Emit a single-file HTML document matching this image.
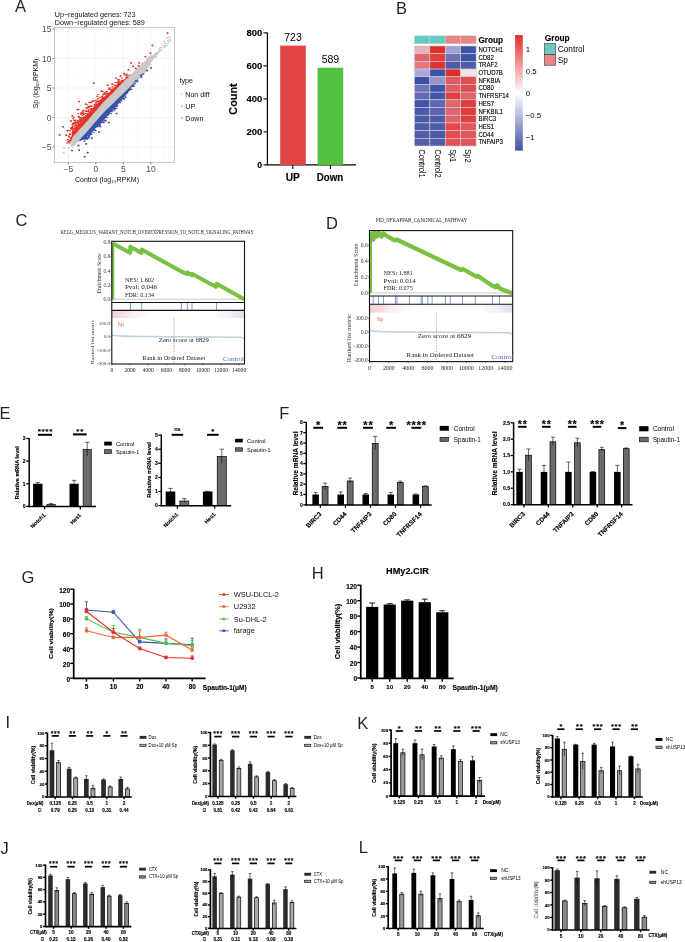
<!DOCTYPE html><html><head><meta charset="utf-8"><style>html,body{margin:0;padding:0;background:#fff;overflow:hidden}svg{display:block;will-change:transform}text[font-weight=bold]{stroke:#000;stroke-width:0.14px}</style></head><body><svg width="685" height="942" viewBox="0 0 685 942" font-family="Liberation Sans, sans-serif"><text x="15" y="12.2" font-size="16.5" fill="#231f20">A</text>
<rect x="54.5" y="27.5" width="120" height="135" fill="#fff"/>
<line x1="54.65" y1="27.5" x2="54.65" y2="162.5" stroke="#f2f2f2" stroke-width="0.4"/>
<line x1="82.15" y1="27.5" x2="82.15" y2="162.5" stroke="#f2f2f2" stroke-width="0.4"/>
<line x1="109.65" y1="27.5" x2="109.65" y2="162.5" stroke="#f2f2f2" stroke-width="0.4"/>
<line x1="137.15" y1="27.5" x2="137.15" y2="162.5" stroke="#f2f2f2" stroke-width="0.4"/>
<line x1="164.65" y1="27.5" x2="164.65" y2="162.5" stroke="#f2f2f2" stroke-width="0.4"/>
<line x1="68.4" y1="27.5" x2="68.4" y2="162.5" stroke="#ebebeb" stroke-width="0.6"/>
<line x1="95.9" y1="27.5" x2="95.9" y2="162.5" stroke="#ebebeb" stroke-width="0.6"/>
<line x1="123.4" y1="27.5" x2="123.4" y2="162.5" stroke="#ebebeb" stroke-width="0.6"/>
<line x1="150.9" y1="27.5" x2="150.9" y2="162.5" stroke="#ebebeb" stroke-width="0.6"/>
<line x1="54.5" y1="161.75" x2="174.5" y2="161.75" stroke="#f2f2f2" stroke-width="0.4"/>
<line x1="54.5" y1="132.25" x2="174.5" y2="132.25" stroke="#f2f2f2" stroke-width="0.4"/>
<line x1="54.5" y1="102.75" x2="174.5" y2="102.75" stroke="#f2f2f2" stroke-width="0.4"/>
<line x1="54.5" y1="73.25" x2="174.5" y2="73.25" stroke="#f2f2f2" stroke-width="0.4"/>
<line x1="54.5" y1="43.75" x2="174.5" y2="43.75" stroke="#f2f2f2" stroke-width="0.4"/>
<line x1="54.5" y1="147" x2="174.5" y2="147" stroke="#ebebeb" stroke-width="0.6"/>
<line x1="54.5" y1="117.5" x2="174.5" y2="117.5" stroke="#ebebeb" stroke-width="0.6"/>
<line x1="54.5" y1="88" x2="174.5" y2="88" stroke="#ebebeb" stroke-width="0.6"/>
<line x1="54.5" y1="58.5" x2="174.5" y2="58.5" stroke="#ebebeb" stroke-width="0.6"/>
<line x1="54.5" y1="29" x2="174.5" y2="29" stroke="#ebebeb" stroke-width="0.6"/>
<path d="M70.5 142.44 L71.94 139.01 L73.38 136.08 L74.83 134.54 L76.27 133 L77.71 131.41 L79.15 129.82 L80.59 128.23 L82.03 126.64 L83.47 125.05 L84.92 123.46 L86.36 121.85 L87.8 120.17 L89.24 118.49 L90.68 116.81 L92.12 115.13 L93.57 113.45 L95.01 111.77 L96.45 110.09 L97.89 108.41 L99.33 106.73 L100.78 105.05 L102.22 103.4 L103.66 101.96 L105.1 100.51 L106.54 99.07 L107.98 97.62 L109.42 96.18 L110.87 94.7 L112.31 93.2 L113.75 91.7 L115.19 90.2 L116.63 88.7 L118.08 87.2 L119.52 85.7 L120.96 84.22 L122.4 82.75 L123.84 81.28 L125.28 79.83 L126.72 78.46 L128.17 77.09 L129.61 75.73 L131.05 74.36 L132.49 72.99 L133.93 71.62 L135.38 70.25 L136.82 68.88 L138.26 67.54 L139.7 66.31 L141.14 64.97 L142.58 63.62 L144.03 62.26 L145.47 60.9 L146.91 59.69 L148.35 58.55 L149.79 57.42 L151.23 56.31 L152.68 55.35 L154.12 54.39 L155.56 53.54 L157 52.87 L157 53.67 L155.56 56.07 L154.12 58.3 L152.68 60.41 L151.23 62.52 L149.79 64.49 L148.35 66.44 L146.91 68.38 L145.47 70.24 L144.03 71.95 L142.58 73.67 L141.14 75.39 L139.7 77.08 L138.26 78.67 L136.82 80.16 L135.38 81.61 L133.93 83.07 L132.49 84.53 L131.05 85.98 L129.61 87.44 L128.17 88.9 L126.72 90.36 L125.28 91.81 L123.84 93.19 L122.4 94.54 L120.96 95.9 L119.52 97.26 L118.08 98.65 L116.63 100.03 L115.19 101.42 L113.75 102.8 L112.31 104.18 L110.87 105.57 L109.42 106.97 L107.98 108.41 L106.54 109.85 L105.1 111.29 L103.66 112.72 L102.22 114.16 L100.78 115.8 L99.33 117.47 L97.89 119.14 L96.45 120.82 L95.01 122.49 L93.57 124.16 L92.12 125.83 L90.68 127.5 L89.24 129.18 L87.8 130.85 L86.36 132.52 L84.92 134.12 L83.47 135.71 L82.03 137.29 L80.59 138.87 L79.15 140.45 L77.71 142.03 L76.27 143.62 L74.83 145.15 L73.38 146.68 L71.94 146.81 L70.5 146.44Z" fill="#c9c9c9"/>
<path d="M69 141.04 L70 139.47 L71 137.25 L72 134.37 L73 131.49 L74 130.26 L75 129.02 L76 127.79 L77 126.54 L78 125.29 L79 124.03 L80 122.78 L81 121.53 L82 120.28 L83 119.02 L84 117.77 L85 116.52 L86 115.26 L87 114.22 L88 113.18 L89 112.14 L90 111.1 L91 110.06 L92 109.02 L93 107.98 L94 106.94 L95 105.9 L96 104.86 L97 103.82 L98 102.78 L99 101.74 L100 100.7 L101 99.66 L102 98.62 L103 97.73 L104 96.84 L105 95.95 L106 95.06 L107 94.16 L108 93.27 L109 92.38 L110 91.49 L111 90.56 L112 89.63 L113 88.7 L114 87.77 L115 86.84 L116 85.92 L117 84.99 L118 84.06 L119 83.13 L120 82.2 L121 81.51 L122 80.83 L123 80.14 L124 79.45 L125 78.77 L126 78.15 L127 77.53 L128 76.92 L129 76.3 L129 76.5 L128 77.45 L127 78.4 L126 79.35 L125 80.3 L124 81.32 L123 82.34 L122 83.36 L121 84.38 L120 85.4 L119 86.44 L118 87.48 L117 88.52 L116 89.56 L115 90.6 L114 91.64 L113 92.68 L112 93.72 L111 94.76 L110 95.8 L109 96.8 L108 97.81 L107 98.81 L106 99.81 L105 100.81 L104 101.82 L103 102.82 L102 103.82 L101 104.99 L100 106.15 L99 107.32 L98 108.48 L97 109.65 L96 110.81 L95 111.98 L94 113.14 L93 114.31 L92 115.47 L91 116.64 L90 117.8 L89 118.97 L88 120.13 L87 121.3 L86 122.46 L85 123.57 L84 124.67 L83 125.77 L82 126.88 L81 127.98 L80 129.08 L79 130.18 L78 131.29 L77 132.39 L76 133.49 L75 134.56 L74 135.62 L73 136.69 L72 139.07 L71 141.45 L70 143.17 L69 144.24Z" fill="#e2362b"/>
<path d="M78 141.51 L79.03 140.38 L80.07 139.25 L81.1 138.11 L82.13 136.98 L83.17 135.84 L84.2 134.71 L85.23 133.58 L86.27 132.43 L87.3 131.23 L88.33 130.03 L89.37 128.83 L90.4 127.63 L91.43 126.43 L92.47 125.24 L93.5 124.04 L94.53 122.84 L95.57 121.64 L96.6 120.44 L97.63 119.24 L98.67 118.04 L99.7 116.85 L100.73 115.65 L101.77 114.45 L102.8 113.38 L103.83 112.35 L104.87 111.32 L105.9 110.29 L106.93 109.26 L107.97 108.23 L109 107.2 L110.03 106.17 L111.07 105.18 L112.1 104.18 L113.13 103.19 L114.17 102.2 L115.2 101.21 L116.23 100.22 L117.27 99.22 L118.3 98.23 L119.33 97.24 L120.37 96.26 L121.4 95.28 L122.43 94.31 L123.47 93.34 L124.5 92.37 L125.53 91.36 L126.57 90.32 L127.6 89.27 L128.63 88.23 L129.67 87.18 L130.7 86.14 L131.73 85.09 L132.77 84.05 L133.8 83.01 L134.83 81.96 L135.87 80.92 L136.9 79.87 L137.93 78.83 L138.97 77.69 L140 76.55 L140 76.75 L138.97 78.1 L137.93 79.44 L136.9 80.69 L135.87 81.95 L134.83 83.29 L133.8 84.63 L132.77 85.97 L131.73 87.3 L130.7 88.64 L129.67 89.98 L128.63 91.34 L127.6 92.69 L126.57 94.05 L125.53 95.4 L124.5 96.72 L123.47 98 L122.43 99.28 L121.4 100.56 L120.37 101.85 L119.33 103.01 L118.3 104.12 L117.27 105.23 L116.23 106.33 L115.2 107.44 L114.17 108.55 L113.13 109.65 L112.1 110.76 L111.07 111.87 L110.03 112.98 L109 114.12 L107.97 115.26 L106.93 116.41 L105.9 117.56 L104.87 118.7 L103.83 119.85 L102.8 120.99 L101.77 122.11 L100.73 123.15 L99.7 124.19 L98.67 125.22 L97.63 126.26 L96.6 127.3 L95.57 128.33 L94.53 129.37 L93.5 130.41 L92.47 131.45 L91.43 132.48 L90.4 133.52 L89.37 134.56 L88.33 135.59 L87.3 136.63 L86.27 137.67 L85.23 138.27 L84.2 138.71 L83.17 139.16 L82.13 139.6 L81.1 140.05 L80.07 140.49 L79.03 141.1 L78 141.71Z" fill="#3a51a9"/>
<path d="M99.75 100.63h1.1M67.85 142.55h1.1M73.37 120.23h1.1M100.51 99.84h1.1M81.07 113.56h1.1M75.18 128.22h1.1M118.05 81.24h1.1M76.21 126.59h1.1M73.73 123.85h1.1M70.61 128.36h1.1M83.27 113.77h1.1M126.74 77.28h1.1M90.56 109.54h1.1M87.21 114.23h1.1M71.94 133.31h1.1M104.75 94.2h1.1M88.76 102.37h1.1M95.27 104.93h1.1M82.16 117.74h1.1M86.55 104.73h1.1M67.24 142.15h1.1M79.56 120.29h1.1M76.88 120.98h1.1M111.84 89h1.1M118.32 82.06h1.1M80.84 117.86h1.1M88.09 106.19h1.1M86.31 108.16h1.1M72.24 128.67h1.1M119.21 82.27h1.1M70.09 137.91h1.1M72.16 132.46h1.1M82.76 113.41h1.1M117.86 83.29h1.1M94.49 100.67h1.1M72.45 131.42h1.1M90.61 102.67h1.1M91.35 109.3h1.1M83.49 114.45h1.1M75.53 123.68h1.1M85.26 116.29h1.1M78.31 124.92h1.1M74.37 120.93h1.1M80.17 120.59h1.1M97.06 99.07h1.1M106.59 93.53h1.1M69.33 130.8h1.1M94.21 104.66h1.1M78.94 121.9h1.1M96.56 104.47h1.1M94.3 105.33h1.1M95.67 102.29h1.1M76.16 123.98h1.1M97.26 94.52h1.1M87.34 111.14h1.1M121.32 81.49h1.1M103.03 94.42h1.1M72.43 123.47h1.1M106.76 93.55h1.1M72.63 123.11h1.1M85.12 110.01h1.1M92.33 101.37h1.1M79.96 117.59h1.1M117.93 82.66h1.1M97.18 101.58h1.1M74.82 125.53h1.1M74.53 128.65h1.1M68.6 136.83h1.1M114.52 87.3h1.1M124.33 75.03h1.1M85.7 115.75h1.1M125.82 77.43h1.1M90.19 106.08h1.1M104.31 93.97h1.1M115.51 85.05h1.1M81.28 120.78h1.1M82.4 118.49h1.1M80.44 112.69h1.1M81.29 118.97h1.1M102.46 94.87h1.1M128.87 75.1h1.1M68.03 141.48h1.1M125.97 75.38h1.1M79.38 121.39h1.1M69.5 134.37h1.1M106.36 93.59h1.1M91.68 106.07h1.1M85.44 111.5h1.1M94.95 106.03h1.1M71.15 129.78h1.1M74.79 120.02h1.1M72.41 118.72h1.1M78.08 109.4h1.1M118.52 82.15h1.1M98.6 101.17h1.1M105.58 91.98h1.1M94.04 106.87h1.1M96.78 96.4h1.1M73.67 129.18h1.1M126.31 73.94h1.1M124.08 74.89h1.1M67.81 141.6h1.1M76.25 125.54h1.1M117.92 79.35h1.1M85.46 115.62h1.1M72.26 129.04h1.1M81.04 120.13h1.1M91.17 109.98h1.1M125.67 77.69h1.1M101.95 97.01h1.1M74.7 127.59h1.1M87.52 113.56h1.1M69.66 134.47h1.1M113.92 85.5h1.1M66.79 143.37h1.1M67.43 139.53h1.1M117.92 84.41h1.1M77.26 120.32h1.1M72.49 130.87h1.1M80.4 114.11h1.1M87.75 111.76h1.1M77.71 113.77h1.1M75.34 124.2h1.1M78.01 123.58h1.1M90.3 106.33h1.1M74.53 122.49h1.1M92.4 100.69h1.1M105.75 91.8h1.1M67.89 141.37h1.1M71.92 124.65h1.1M78.9 117.84h1.1M88.2 109.86h1.1M87.99 110.68h1.1M90.54 109.26h1.1M92.72 108.47h1.1M83.45 114.38h1.1M107.43 93.2h1.1M78.08 116.35h1.1M88.88 106.16h1.1M78.94 117.3h1.1M97.69 98.21h1.1M86.63 111.09h1.1M68.63 141.48h1.1M101.42 96.64h1.1M85.83 107.51h1.1M68.95 140.53h1.1M75.16 128.86h1.1M112.4 89.13h1.1M112.15 84.49h1.1M111.35 90.4h1.1M117.76 82.1h1.1M96.58 100.68h1.1M74.72 122.95h1.1M101.73 98.61h1.1M103.92 93.32h1.1M117.13 85.14h1.1M87.65 106.96h1.1M95.23 103.18h1.1M114.87 82.51h1.1M77.56 122.86h1.1M88.67 107.85h1.1M70.8 127.65h1.1M81.91 111.05h1.1M79.64 119.25h1.1M69.02 130.61h1.1M108.77 87.75h1.1M74.39 128.16h1.1M82.5 117.52h1.1M119.18 81.94h1.1M81.95 115.09h1.1M102.02 97.25h1.1M110.99 90.18h1.1M82.98 110.49h1.1M121.26 80.42h1.1M88.94 107.96h1.1M73.18 117.25h1.1M77.12 122.14h1.1M68.34 136.03h1.1M115.17 85.01h1.1M99.42 97.31h1.1M108.87 88.1h1.1M73.38 126.03h1.1M83.9 116.81h1.1M78.33 117.28h1.1M85.32 113.37h1.1M69.42 133.92h1.1M75.34 122.3h1.1M102.06 91.63h1.1M104.32 92.77h1.1M111.73 86.88h1.1M90.06 101.99h1.1M97.42 101.74h1.1M126.81 76.03h1.1M109.3 89.33h1.1M71.78 127.42h1.1M106.19 91.53h1.1M108.21 89.05h1.1M82.48 112.12h1.1M102.22 97.62h1.1M114.06 87.18h1.1M111.24 89.19h1.1M117.67 79.87h1.1M91.25 108.61h1.1M87.93 111.14h1.1M75.43 126.93h1.1M118.89 80.04h1.1M116.97 82.48h1.1M121.28 78.05h1.1M72.42 126.22h1.1M73.52 126.03h1.1" stroke="#e2362b" stroke-width="1.1" stroke-linecap="round" fill="none"/>
<path d="M80.04 139.95h1.1M100.52 122.36h1.1M106.12 117.57h1.1M93.19 129.51h1.1M92.77 132.77h1.1M123.72 99.16h1.1M89.96 134.26h1.1M84.72 137.95h1.1M128.68 90.44h1.1M115.16 106.76h1.1M98.81 126.31h1.1M140.95 75.31h1.1M99.8 122.77h1.1M88.26 135.81h1.1M93.93 129.5h1.1M103.02 122.7h1.1M115.92 108.35h1.1M99.28 124.32h1.1M140.65 75.87h1.1M85.89 138.99h1.1M125.87 93.54h1.1M87.01 139.19h1.1M96.5 126.66h1.1M140.15 75.69h1.1M105 117.25h1.1M109.5 113.82h1.1M132.99 85.58h1.1M129.79 88.89h1.1M106.43 117.58h1.1M101.84 121.8h1.1M130.84 89.35h1.1M83.91 141.16h1.1M102.51 122.06h1.1M136.96 80.83h1.1M83.11 139.23h1.1M136.62 81.65h1.1M119.47 102.58h1.1M90.47 133.32h1.1M122.94 98.03h1.1M140.36 76.32h1.1M103.5 120.15h1.1M99.49 124.17h1.1M125.17 97.33h1.1M103.45 122.47h1.1M98.92 125.62h1.1M111.19 111.13h1.1M114.36 108.52h1.1M95.21 130.45h1.1M97.42 126.78h1.1M95.05 130.75h1.1M104.58 120.99h1.1M83.99 138.43h1.1M86.02 137.6h1.1M85.53 139.25h1.1M115.79 106.33h1.1M79.89 140.24h1.1M100.01 126.69h1.1M126.65 92.69h1.1M123.32 99.08h1.1M100.59 122.59h1.1M88.84 135.26h1.1M91.74 130.9h1.1M110.93 111.74h1.1M133.11 86.46h1.1M85.02 139h1.1M105.55 117.54h1.1M87 138.14h1.1M81.93 139.28h1.1M140.63 74.79h1.1M107 115.53h1.1M127.08 92.11h1.1M117.05 105.73h1.1M124.43 96.02h1.1M99.31 125.59h1.1M101.66 122.16h1.1M114.14 109.56h1.1M104.93 120.01h1.1M90.72 134.42h1.1M113.29 110.72h1.1M107.42 114.49h1.1M110.52 113.81h1.1M93.14 130.27h1.1M88.28 137.79h1.1M105.23 120.84h1.1M84.64 138.3h1.1M88.96 135.37h1.1M121.02 101.04h1.1M86.57 137.88h1.1M134.62 83.75h1.1M88.19 136.73h1.1" stroke="#3a51a9" stroke-width="1.1" stroke-linecap="round" fill="none"/>
<path d="M144.91 64.36h0.4M154.64 54.77h0.4M168.43 40.35h0.4M140.57 71.66h0.4M154.41 56.88h0.4M140.02 68.31h0.4M157.2 53.03h0.4M148.12 67.25h0.4M157.36 54.22h0.4M148.05 63.7h0.4M146.01 70.26h0.4M144.1 72.59h0.4M137.99 66.43h0.4M154.61 53.79h0.4M153.05 58.5h0.4M159.06 48.82h0.4M137.47 72.66h0.4M149.94 64.41h0.4M155.84 55.36h0.4M141.89 73.41h0.4M139.26 77.74h0.4M144.89 70.54h0.4M153.33 57.06h0.4M164.03 47.59h0.4M144.99 61.63h0.4M148.18 64.15h0.4M168.22 42.78h0.4M160.49 47.16h0.4M144.47 62.07h0.4M141.18 65.39h0.4M155.81 56.98h0.4M141.24 69.9h0.4M155.33 53.12h0.4M136.31 68.68h0.4M150.17 57.88h0.4M138.95 71.93h0.4M148.98 59.96h0.4M158.58 52.41h0.4M151.19 59.28h0.4M141.95 63.61h0.4M138.59 70.29h0.4M138.82 74.38h0.4M150.2 58.52h0.4M153.21 57.12h0.4M146.18 62.56h0.4M166.74 43.59h0.4M150.38 57.03h0.4M137.34 68.59h0.4M164.61 46.17h0.4M137.79 73.47h0.4M147.2 59.13h0.4M161.04 50.61h0.4M153.16 56.32h0.4M143.37 66.33h0.4M142.55 63.27h0.4M159.17 49.24h0.4M147.19 60.94h0.4M149.43 62.97h0.4M150.44 56.88h0.4M138.2 73.56h0.4M169.48 41.27h0.4M152.41 59.06h0.4M158.57 51.85h0.4M167.55 40.56h0.4M151.9 57.66h0.4M159.11 50.88h0.4M155.46 57.13h0.4M146.75 58.96h0.4M155.62 55.23h0.4M147.63 65.15h0.4M148.27 64.58h0.4M145.22 71.34h0.4M150.69 55.29h0.4M138.91 75.33h0.4M165.2 46.12h0.4M148.74 63.61h0.4M135.92 68.83h0.4M147.82 66.84h0.4M166.7 45.39h0.4M142.48 68.78h0.4M152.22 56.81h0.4M155.79 55.7h0.4M145.23 65.64h0.4M152.93 56.87h0.4M153.88 55.5h0.4M161.98 48.11h0.4M144.26 71.82h0.4M153.17 55.25h0.4M145.67 63.98h0.4M159.9 47.39h0.4M143.04 67.35h0.4M147.97 60.64h0.4M148.02 65.32h0.4M143.75 70.69h0.4M158.06 52.21h0.4M157.4 52.55h0.4M148.06 57.66h0.4M158.59 51.92h0.4M147.26 59.15h0.4M162.85 45.28h0.4M144.98 65.73h0.4M160.01 49.96h0.4M164.66 43.33h0.4M146.48 69.69h0.4M142.03 64.66h0.4M145.35 70.51h0.4M164.76 45.4h0.4M150.33 57.32h0.4M139.86 76.69h0.4M150.74 58.8h0.4M156.04 55.66h0.4M148.7 56.93h0.4M148.44 64.88h0.4M147.12 65.58h0.4M136.49 77.06h0.4M156.57 53.71h0.4M142.61 72.88h0.4M155.72 54.22h0.4M146.86 65.49h0.4" stroke="#c9c9c9" stroke-width="1.5" stroke-linecap="round" fill="none"/>
<path d="M63.45 152.6h0.5M63.95 148h0.5M67.55 143.4h0.5M68.55 148h0.5M70.15 142.3h0.5M66.25 140.5h0.5M164.25 41.4h0.5M166.75 38h0.5M169.25 37.5h0.5M170.25 40h0.5" stroke="#c9c9c9" stroke-width="1.7" stroke-linecap="round" fill="none"/>
<path d="M59.35 134.9h0.5M62.75 126.8h0.5M66.05 135.2h0.5M67.05 130.6h0.5M70.65 120.9h0.5M72.15 115.8h0.5M77.25 109.6h0.5M78.75 101.5h0.5M85.45 104h0.5M93.65 83.1h0.5M101.25 91.2h0.5M107.35 85.1h0.5M111.95 84.1h0.5M128.25 69.9h0.5M130.85 62.8h0.5M132.85 66.3h0.5M135.45 68.4h0.5M138.95 62.8h0.5M138.45 65.8h0.5M145.15 56.6h0.5M150.25 53.1h0.5M152.25 45.4h0.5M167.25 33.1h0.5M115.75 78h0.5M120.25 75.8h0.5M123.75 73.5h0.5" stroke="#e2362b" stroke-width="1.7" stroke-linecap="round" fill="none"/>
<path d="M71.65 150.5h0.5M78.25 145.4h0.5M78.75 150h0.5M84.45 156.6h0.5M87.45 152.6h0.5M85.95 143.9h0.5M91.55 138.2h0.5M98.75 132.1h0.5M132.35 85.8h0.5M135.45 81.2h0.5M141.05 77.1h0.5M143.05 74h0.5M146.65 70.4h0.5M150.75 67.9h0.5M108.55 122.6h0.5M116.25 113.5h0.5" stroke="#3a51a9" stroke-width="1.7" stroke-linecap="round" fill="none"/>
<rect x="54.5" y="27.5" width="120" height="135" fill="none" stroke="#b3b3b3" stroke-width="0.7"/>
<line x1="68.4" y1="162.5" x2="68.4" y2="164.5" stroke="#333" stroke-width="0.6"/>
<text x="68.4" y="171.5" font-size="8.5" text-anchor="middle" fill="#4d4d4d">−5</text>
<line x1="95.9" y1="162.5" x2="95.9" y2="164.5" stroke="#333" stroke-width="0.6"/>
<text x="95.9" y="171.5" font-size="8.5" text-anchor="middle" fill="#4d4d4d">0</text>
<line x1="123.4" y1="162.5" x2="123.4" y2="164.5" stroke="#333" stroke-width="0.6"/>
<text x="123.4" y="171.5" font-size="8.5" text-anchor="middle" fill="#4d4d4d">5</text>
<line x1="150.9" y1="162.5" x2="150.9" y2="164.5" stroke="#333" stroke-width="0.6"/>
<text x="150.9" y="171.5" font-size="8.5" text-anchor="middle" fill="#4d4d4d">10</text>
<line x1="52.5" y1="147" x2="54.5" y2="147" stroke="#333" stroke-width="0.6"/>
<text x="51.5" y="150" font-size="8.5" text-anchor="end" fill="#4d4d4d">−5</text>
<line x1="52.5" y1="117.5" x2="54.5" y2="117.5" stroke="#333" stroke-width="0.6"/>
<text x="51.5" y="120.5" font-size="8.5" text-anchor="end" fill="#4d4d4d">0</text>
<line x1="52.5" y1="88" x2="54.5" y2="88" stroke="#333" stroke-width="0.6"/>
<text x="51.5" y="91" font-size="8.5" text-anchor="end" fill="#4d4d4d">5</text>
<line x1="52.5" y1="58.5" x2="54.5" y2="58.5" stroke="#333" stroke-width="0.6"/>
<text x="51.5" y="61.5" font-size="8.5" text-anchor="end" fill="#4d4d4d">10</text>
<line x1="52.5" y1="29" x2="54.5" y2="29" stroke="#333" stroke-width="0.6"/>
<text x="51.5" y="32" font-size="8.5" text-anchor="end" fill="#4d4d4d">15</text>
<text x="107" y="182" font-size="7" text-anchor="middle" fill="#111">Control (log₁₀RPKM)</text>
<text x="38.3" y="83.5" font-size="7.2" text-anchor="middle" fill="#111" transform="rotate(-90 38.3 83.5)" textLength="49.5" lengthAdjust="spacingAndGlyphs">Sp (log₁₀RPKM)</text>
<text x="54.7" y="16.5" font-size="7.2" fill="#111">Up−regulated genes: 723</text>
<text x="54.7" y="24.5" font-size="7.2" fill="#111">Down−regulated genes: 589</text>
<text x="179.5" y="82.7" font-size="7.1" fill="#111">type</text>
<rect x="181" y="93.4" width="1.6" height="1.6" fill="#d9d9d9"/>
<text x="185.3" y="96.7" font-size="7.1" fill="#111">Non diff</text>
<rect x="181" y="105.6" width="1.6" height="1.6" fill="#ef9a8e"/>
<text x="185.3" y="108.9" font-size="7.1" fill="#111">UP</text>
<rect x="181" y="117.3" width="1.6" height="1.6" fill="#8f9fd6"/>
<text x="185.3" y="120.6" font-size="7.1" fill="#111">Down</text>
<line x1="267.4" y1="32.4" x2="267.4" y2="165.5" stroke="#000" stroke-width="1.2"/>
<line x1="266.8" y1="164.9" x2="356" y2="164.9" stroke="#000" stroke-width="1.2"/>
<line x1="263.4" y1="164.9" x2="267.4" y2="164.9" stroke="#000" stroke-width="1.1"/>
<text x="262.2" y="168" font-size="8.8" font-weight="bold" text-anchor="end">0</text>
<line x1="263.4" y1="131.9" x2="267.4" y2="131.9" stroke="#000" stroke-width="1.1"/>
<text x="262.2" y="135" font-size="8.8" font-weight="bold" text-anchor="end" textLength="15.8" lengthAdjust="spacingAndGlyphs">200</text>
<line x1="263.4" y1="98.9" x2="267.4" y2="98.9" stroke="#000" stroke-width="1.1"/>
<text x="262.2" y="102" font-size="8.8" font-weight="bold" text-anchor="end" textLength="15.8" lengthAdjust="spacingAndGlyphs">400</text>
<line x1="263.4" y1="65.9" x2="267.4" y2="65.9" stroke="#000" stroke-width="1.1"/>
<text x="262.2" y="69" font-size="8.8" font-weight="bold" text-anchor="end" textLength="15.8" lengthAdjust="spacingAndGlyphs">600</text>
<line x1="263.4" y1="32.9" x2="267.4" y2="32.9" stroke="#000" stroke-width="1.1"/>
<text x="262.2" y="36" font-size="8.8" font-weight="bold" text-anchor="end" textLength="15.8" lengthAdjust="spacingAndGlyphs">800</text>
<rect x="280.2" y="45.61" width="25.6" height="119.3" fill="#e34546"/>
<rect x="317.6" y="67.72" width="25.6" height="97.19" fill="#53c03f"/>
<line x1="292.8" y1="164.9" x2="292.8" y2="168.9" stroke="#000" stroke-width="1.1"/>
<line x1="330.4" y1="164.9" x2="330.4" y2="168.9" stroke="#000" stroke-width="1.1"/>
<text x="293" y="40.8" font-size="10.5" text-anchor="middle">723</text>
<text x="330.4" y="62.8" font-size="10.5" text-anchor="middle">589</text>
<text x="292.8" y="180.6" font-size="10" font-weight="bold" text-anchor="middle" textLength="14.2" lengthAdjust="spacingAndGlyphs">UP</text>
<text x="330" y="180.6" font-size="10" font-weight="bold" text-anchor="middle" textLength="26.4" lengthAdjust="spacingAndGlyphs">Down</text>
<text x="236.9" y="99" font-size="11" font-weight="bold" text-anchor="middle" transform="rotate(-90 236.9 99)" textLength="31.4" lengthAdjust="spacingAndGlyphs">Count</text>
<text x="396" y="13.6" font-size="16.5" fill="#231f20">B</text>
<rect x="414.4" y="35.8" width="15.43" height="8" fill="#66cbc3" stroke="#d0d0d0" stroke-width="0.4"/>
<rect x="429.83" y="35.8" width="15.43" height="8" fill="#66cbc3" stroke="#d0d0d0" stroke-width="0.4"/>
<rect x="445.26" y="35.8" width="15.43" height="8" fill="#e88585" stroke="#d0d0d0" stroke-width="0.4"/>
<rect x="460.69" y="35.8" width="15.43" height="8" fill="#e88585" stroke="#d0d0d0" stroke-width="0.4"/>
<text x="478.4" y="42.8" font-size="8.2" font-weight="bold">Group</text>
<rect x="414.4" y="46" width="15.43" height="7.69" fill="#e8b2be" stroke="#cfcfcf" stroke-width="0.6"/>
<rect x="429.83" y="46" width="15.43" height="7.69" fill="#e22e28" stroke="#cfcfcf" stroke-width="0.6"/>
<rect x="445.26" y="46" width="15.43" height="7.69" fill="#a0a0d4" stroke="#cfcfcf" stroke-width="0.6"/>
<rect x="460.69" y="46" width="15.43" height="7.69" fill="#3e54a8" stroke="#cfcfcf" stroke-width="0.6"/>
<text x="478.4" y="52" font-size="6.7" textLength="24.83" lengthAdjust="spacingAndGlyphs" stroke="#000" stroke-width="0.13">NOTCH1</text>
<rect x="414.4" y="53.69" width="15.43" height="7.69" fill="#e4646e" stroke="#cfcfcf" stroke-width="0.6"/>
<rect x="429.83" y="53.69" width="15.43" height="7.69" fill="#e23c3c" stroke="#cfcfcf" stroke-width="0.6"/>
<rect x="445.26" y="53.69" width="15.43" height="7.69" fill="#6e73b9" stroke="#cfcfcf" stroke-width="0.6"/>
<rect x="460.69" y="53.69" width="15.43" height="7.69" fill="#3e54a8" stroke="#cfcfcf" stroke-width="0.6"/>
<text x="478.4" y="59.69" font-size="6.7" textLength="15.44" lengthAdjust="spacingAndGlyphs" stroke="#000" stroke-width="0.13">CD82</text>
<rect x="414.4" y="61.38" width="15.43" height="7.69" fill="#e6787d" stroke="#cfcfcf" stroke-width="0.6"/>
<rect x="429.83" y="61.38" width="15.43" height="7.69" fill="#e2302d" stroke="#cfcfcf" stroke-width="0.6"/>
<rect x="445.26" y="61.38" width="15.43" height="7.69" fill="#505aac" stroke="#cfcfcf" stroke-width="0.6"/>
<rect x="460.69" y="61.38" width="15.43" height="7.69" fill="#505aac" stroke="#cfcfcf" stroke-width="0.6"/>
<text x="478.4" y="67.38" font-size="6.7" textLength="19.12" lengthAdjust="spacingAndGlyphs" stroke="#000" stroke-width="0.13">TRAF2</text>
<rect x="414.4" y="69.08" width="15.43" height="7.69" fill="#aaaadc" stroke="#cfcfcf" stroke-width="0.6"/>
<rect x="429.83" y="69.08" width="15.43" height="7.69" fill="#3e54a8" stroke="#cfcfcf" stroke-width="0.6"/>
<rect x="445.26" y="69.08" width="15.43" height="7.69" fill="#e02c24" stroke="#cfcfcf" stroke-width="0.6"/>
<rect x="460.69" y="69.08" width="15.43" height="7.69" fill="#f2e4e4" stroke="#cfcfcf" stroke-width="0.6"/>
<text x="478.4" y="75.08" font-size="6.7" textLength="24.49" lengthAdjust="spacingAndGlyphs" stroke="#000" stroke-width="0.13">OTUD7B</text>
<rect x="414.4" y="76.77" width="15.43" height="7.69" fill="#3a50a8" stroke="#cfcfcf" stroke-width="0.6"/>
<rect x="429.83" y="76.77" width="15.43" height="7.69" fill="#9696cd" stroke="#cfcfcf" stroke-width="0.6"/>
<rect x="445.26" y="76.77" width="15.43" height="7.69" fill="#e25a64" stroke="#cfcfcf" stroke-width="0.6"/>
<rect x="460.69" y="76.77" width="15.43" height="7.69" fill="#e44c50" stroke="#cfcfcf" stroke-width="0.6"/>
<text x="478.4" y="82.77" font-size="6.7" textLength="21.81" lengthAdjust="spacingAndGlyphs" stroke="#000" stroke-width="0.13">NFKBIA</text>
<rect x="414.4" y="84.46" width="15.43" height="7.69" fill="#7073b9" stroke="#cfcfcf" stroke-width="0.6"/>
<rect x="429.83" y="84.46" width="15.43" height="7.69" fill="#3e54a8" stroke="#cfcfcf" stroke-width="0.6"/>
<rect x="445.26" y="84.46" width="15.43" height="7.69" fill="#e15a64" stroke="#cfcfcf" stroke-width="0.6"/>
<rect x="460.69" y="84.46" width="15.43" height="7.69" fill="#e24b4e" stroke="#cfcfcf" stroke-width="0.6"/>
<text x="478.4" y="90.46" font-size="6.7" textLength="15.44" lengthAdjust="spacingAndGlyphs" stroke="#000" stroke-width="0.13">CD80</text>
<rect x="414.4" y="92.15" width="15.43" height="7.69" fill="#6468b2" stroke="#cfcfcf" stroke-width="0.6"/>
<rect x="429.83" y="92.15" width="15.43" height="7.69" fill="#4256aa" stroke="#cfcfcf" stroke-width="0.6"/>
<rect x="445.26" y="92.15" width="15.43" height="7.69" fill="#e43e3e" stroke="#cfcfcf" stroke-width="0.6"/>
<rect x="460.69" y="92.15" width="15.43" height="7.69" fill="#e2626c" stroke="#cfcfcf" stroke-width="0.6"/>
<text x="478.4" y="98.15" font-size="6.7" textLength="30.53" lengthAdjust="spacingAndGlyphs" stroke="#000" stroke-width="0.13">TNFRSF14</text>
<rect x="414.4" y="99.85" width="15.43" height="7.69" fill="#4054a8" stroke="#cfcfcf" stroke-width="0.6"/>
<rect x="429.83" y="99.85" width="15.43" height="7.69" fill="#6064b2" stroke="#cfcfcf" stroke-width="0.6"/>
<rect x="445.26" y="99.85" width="15.43" height="7.69" fill="#e2646e" stroke="#cfcfcf" stroke-width="0.6"/>
<rect x="460.69" y="99.85" width="15.43" height="7.69" fill="#e43a3a" stroke="#cfcfcf" stroke-width="0.6"/>
<text x="478.4" y="105.85" font-size="6.7" textLength="15.78" lengthAdjust="spacingAndGlyphs" stroke="#000" stroke-width="0.13">HES7</text>
<rect x="414.4" y="107.54" width="15.43" height="7.69" fill="#4858aa" stroke="#cfcfcf" stroke-width="0.6"/>
<rect x="429.83" y="107.54" width="15.43" height="7.69" fill="#5c62b0" stroke="#cfcfcf" stroke-width="0.6"/>
<rect x="445.26" y="107.54" width="15.43" height="7.69" fill="#e2646e" stroke="#cfcfcf" stroke-width="0.6"/>
<rect x="460.69" y="107.54" width="15.43" height="7.69" fill="#e43a3a" stroke="#cfcfcf" stroke-width="0.6"/>
<text x="478.4" y="113.54" font-size="6.7" textLength="24.5" lengthAdjust="spacingAndGlyphs" stroke="#000" stroke-width="0.13">NFKBIL1</text>
<rect x="414.4" y="115.23" width="15.43" height="7.69" fill="#4a58aa" stroke="#cfcfcf" stroke-width="0.6"/>
<rect x="429.83" y="115.23" width="15.43" height="7.69" fill="#505aac" stroke="#cfcfcf" stroke-width="0.6"/>
<rect x="445.26" y="115.23" width="15.43" height="7.69" fill="#e2626c" stroke="#cfcfcf" stroke-width="0.6"/>
<rect x="460.69" y="115.23" width="15.43" height="7.69" fill="#e43e3e" stroke="#cfcfcf" stroke-width="0.6"/>
<text x="478.4" y="121.23" font-size="6.7" textLength="17.79" lengthAdjust="spacingAndGlyphs" stroke="#000" stroke-width="0.13">BIRC3</text>
<rect x="414.4" y="122.92" width="15.43" height="7.69" fill="#4c5aac" stroke="#cfcfcf" stroke-width="0.6"/>
<rect x="429.83" y="122.92" width="15.43" height="7.69" fill="#4e5aac" stroke="#cfcfcf" stroke-width="0.6"/>
<rect x="445.26" y="122.92" width="15.43" height="7.69" fill="#e4484c" stroke="#cfcfcf" stroke-width="0.6"/>
<rect x="460.69" y="122.92" width="15.43" height="7.69" fill="#e2565c" stroke="#cfcfcf" stroke-width="0.6"/>
<text x="478.4" y="128.92" font-size="6.7" textLength="15.78" lengthAdjust="spacingAndGlyphs" stroke="#000" stroke-width="0.13">HES1</text>
<rect x="414.4" y="130.62" width="15.43" height="7.69" fill="#505cac" stroke="#cfcfcf" stroke-width="0.6"/>
<rect x="429.83" y="130.62" width="15.43" height="7.69" fill="#4c58aa" stroke="#cfcfcf" stroke-width="0.6"/>
<rect x="445.26" y="130.62" width="15.43" height="7.69" fill="#e44e52" stroke="#cfcfcf" stroke-width="0.6"/>
<rect x="460.69" y="130.62" width="15.43" height="7.69" fill="#e2545a" stroke="#cfcfcf" stroke-width="0.6"/>
<text x="478.4" y="136.62" font-size="6.7" textLength="15.44" lengthAdjust="spacingAndGlyphs" stroke="#000" stroke-width="0.13">CD44</text>
<rect x="414.4" y="138.31" width="15.43" height="7.69" fill="#525eae" stroke="#cfcfcf" stroke-width="0.6"/>
<rect x="429.83" y="138.31" width="15.43" height="7.69" fill="#505cac" stroke="#cfcfcf" stroke-width="0.6"/>
<rect x="445.26" y="138.31" width="15.43" height="7.69" fill="#e45256" stroke="#cfcfcf" stroke-width="0.6"/>
<rect x="460.69" y="138.31" width="15.43" height="7.69" fill="#e25258" stroke="#cfcfcf" stroke-width="0.6"/>
<text x="478.4" y="144.31" font-size="6.7" textLength="24.5" lengthAdjust="spacingAndGlyphs" stroke="#000" stroke-width="0.13">TNFAIP3</text>
<text x="419.11" y="149.3" font-size="8.6" transform="rotate(90 419.11 149.3)" textLength="28.4" lengthAdjust="spacingAndGlyphs">Control1</text>
<text x="434.54" y="149.3" font-size="8.6" transform="rotate(90 434.54 149.3)" textLength="28.4" lengthAdjust="spacingAndGlyphs">Control2</text>
<text x="449.97" y="149.3" font-size="8.6" transform="rotate(90 449.97 149.3)" textLength="12.8" lengthAdjust="spacingAndGlyphs">Sp1</text>
<text x="465.4" y="149.3" font-size="8.6" transform="rotate(90 465.4 149.3)" textLength="13.4" lengthAdjust="spacingAndGlyphs">Sp2</text>
<defs><linearGradient id="cb" x1="0" y1="0" x2="0" y2="1"><stop offset="0" stop-color="#e1302a"/><stop offset="0.5" stop-color="#e79a9a"/><stop offset="0.5"/></linearGradient></defs>
<defs><linearGradient id="cb2" x1="0" y1="0" x2="0" y2="1"><stop offset="0" stop-color="#e22e28"/><stop offset="0.05" stop-color="#e5423c"/><stop offset="0.1" stop-color="#e85652"/><stop offset="0.15" stop-color="#ea6b67"/><stop offset="0.2" stop-color="#ed807c"/><stop offset="0.25" stop-color="#f09592"/><stop offset="0.3" stop-color="#f3aaa7"/><stop offset="0.35" stop-color="#f6bfbd"/><stop offset="0.4" stop-color="#f9d3d2"/><stop offset="0.45" stop-color="#fce8e8"/><stop offset="0.5" stop-color="#fffdfd"/><stop offset="0.55" stop-color="#edeff7"/><stop offset="0.6" stop-color="#dadeee"/><stop offset="0.65" stop-color="#c7cce6"/><stop offset="0.7" stop-color="#b3bbdd"/><stop offset="0.75" stop-color="#a0a9d4"/><stop offset="0.8" stop-color="#8c98cc"/><stop offset="0.85" stop-color="#7987c3"/><stop offset="0.9" stop-color="#6575ba"/><stop offset="0.95" stop-color="#5264b2"/><stop offset="1" stop-color="#3f52a9"/></linearGradient></defs>
<rect x="515.1" y="35.1" width="7.7" height="115.5" fill="url(#cb2)"/>
<text x="525.8" y="52" font-size="7.8">1</text>
<text x="525.8" y="74.2" font-size="7.8">0.5</text>
<text x="525.8" y="96.2" font-size="7.8">0</text>
<text x="525.8" y="118" font-size="7.8">−0.5</text>
<text x="525.8" y="140.3" font-size="7.8">−1</text>
<text x="544.8" y="40.6" font-size="8.3" font-weight="bold">Group</text>
<rect x="544.6" y="43.6" width="10.9" height="10.7" fill="#66cbc3" stroke="#333" stroke-width="0.6"/>
<rect x="544.6" y="54.3" width="10.9" height="10.9" fill="#e88585" stroke="#333" stroke-width="0.6"/>
<text x="557.7" y="51.8" font-size="8.3">Control</text>
<text x="557.7" y="62.9" font-size="8.3">Sp</text>
<text x="15.4" y="226.2" font-size="16.5" fill="#231f20">C</text>
<text x="60.7" y="234" font-size="5.6" fill="#222" font-family="Liberation Serif, serif" textLength="193" lengthAdjust="spacingAndGlyphs">KEGG_MEDICUS_VARIANT_NOTCH_OVEREXPRESSION_TO_NOTCH_SIGNALING_PATHWAY</text>
<defs><linearGradient id="gC" x1="0" x2="1" y1="0" y2="0"><stop offset="0" stop-color="#f0d0d5"/><stop offset="0.1" stop-color="#f5dfe2"/><stop offset="0.15" stop-color="#faeef0"/><stop offset="0.25" stop-color="#fdf8f8"/><stop offset="0.3" stop-color="#fff"/><stop offset="0.78" stop-color="#fff"/><stop offset="0.8" stop-color="#f9f9fc"/><stop offset="0.9" stop-color="#f0f0f7"/><stop offset="0.92" stop-color="#e9e9f4"/><stop offset="1" stop-color="#e0e0f0"/></linearGradient></defs>
<rect x="111.8" y="310.4" width="132.7" height="7.6" fill="url(#gC)"/>
<line x1="111.8" y1="299.3" x2="244.5" y2="299.3" stroke="#bdbdbd" stroke-width="0.8"/>
<path d="M111.8 335 C114.8 336 121.8 336.3 141.8 336.4 L240.5 337.2 L244.5 338.4" fill="none" stroke="#c2d0de" stroke-width="1.5"/>
<line x1="174" y1="318" x2="174" y2="364" stroke="#888" stroke-width="0.6" stroke-dasharray="1.5 1.2"/>
<path d="M112.9 243.5 L130 252.8 L130.4 246.8 L141.4 253.0 L141.8 249.6 L181.4 271.6 L186.8 273.9 L187.4 272.6 L192 275.2 L192.4 273.9 L216.2 286.9 L216.6 283.8 L244.2 299.3" fill="none" stroke="#78c142" stroke-width="4" stroke-linejoin="round"/>
<line x1="112.9" y1="243.5" x2="112.9" y2="299.5" stroke="#78c142" stroke-width="2.6"/>
<line x1="130.5" y1="302.5" x2="130.5" y2="310.4" stroke="#4f80c2" stroke-width="0.75"/>
<line x1="141.7" y1="302.5" x2="141.7" y2="310.4" stroke="#4f80c2" stroke-width="0.75"/>
<line x1="181.4" y1="302.5" x2="181.4" y2="310.4" stroke="#4f80c2" stroke-width="0.75"/>
<line x1="187.3" y1="302.5" x2="187.3" y2="310.4" stroke="#4f80c2" stroke-width="0.75"/>
<line x1="192" y1="302.5" x2="192" y2="310.4" stroke="#4f80c2" stroke-width="0.75"/>
<line x1="216.5" y1="302.5" x2="216.5" y2="310.4" stroke="#4f80c2" stroke-width="0.75"/>
<rect x="111.8" y="241.3" width="132.7" height="122.7" fill="none" stroke="#111" stroke-width="1.1"/>
<line x1="111.8" y1="302.5" x2="244.5" y2="302.5" stroke="#111" stroke-width="1.1"/>
<line x1="111.8" y1="310.4" x2="244.5" y2="310.4" stroke="#111" stroke-width="1.1"/>
<line x1="110.3" y1="242.5" x2="111.8" y2="242.5" stroke="#333" stroke-width="0.6"/>
<text x="110" y="244.3" font-size="5.2" text-anchor="end" fill="#333" font-family="Liberation Serif, serif">0.8</text>
<line x1="110.3" y1="256.5" x2="111.8" y2="256.5" stroke="#333" stroke-width="0.6"/>
<text x="110" y="258.3" font-size="5.2" text-anchor="end" fill="#333" font-family="Liberation Serif, serif">0.6</text>
<line x1="110.3" y1="271.2" x2="111.8" y2="271.2" stroke="#333" stroke-width="0.6"/>
<text x="110" y="273" font-size="5.2" text-anchor="end" fill="#333" font-family="Liberation Serif, serif">0.4</text>
<line x1="110.3" y1="285.2" x2="111.8" y2="285.2" stroke="#333" stroke-width="0.6"/>
<text x="110" y="287" font-size="5.2" text-anchor="end" fill="#333" font-family="Liberation Serif, serif">0.2</text>
<line x1="110.3" y1="299.3" x2="111.8" y2="299.3" stroke="#333" stroke-width="0.6"/>
<text x="110" y="301.1" font-size="5.2" text-anchor="end" fill="#333" font-family="Liberation Serif, serif">0.0</text>
<text x="100.8" y="273.3" font-size="5.2" text-anchor="middle" fill="#333" font-family="Liberation Serif, serif" transform="rotate(-90 100.8 273.3)" textLength="40" lengthAdjust="spacingAndGlyphs">Enrichment Score</text>
<text x="124.9" y="281.8" font-size="6" fill="#222" font-family="Liberation Serif, serif" textLength="29.2" lengthAdjust="spacingAndGlyphs">NES: 1.602</text>
<text x="124.9" y="289.2" font-size="6" fill="#222" font-family="Liberation Serif, serif" textLength="32.12" lengthAdjust="spacingAndGlyphs">Pval: 0.046</text>
<text x="124.9" y="296.6" font-size="6" fill="#222" font-family="Liberation Serif, serif" textLength="29.2" lengthAdjust="spacingAndGlyphs">FDR: 0.134</text>
<line x1="110.3" y1="323" x2="111.8" y2="323" stroke="#333" stroke-width="0.6"/>
<text x="110" y="324.8" font-size="5" text-anchor="end" fill="#333" font-family="Liberation Serif, serif">100.0</text>
<line x1="110.3" y1="336.6" x2="111.8" y2="336.6" stroke="#333" stroke-width="0.6"/>
<text x="110" y="338.4" font-size="5" text-anchor="end" fill="#333" font-family="Liberation Serif, serif">0.0</text>
<line x1="110.3" y1="349.9" x2="111.8" y2="349.9" stroke="#333" stroke-width="0.6"/>
<text x="110" y="351.7" font-size="5" text-anchor="end" fill="#333" font-family="Liberation Serif, serif">-100.0</text>
<line x1="110.3" y1="363.5" x2="111.8" y2="363.5" stroke="#333" stroke-width="0.6"/>
<text x="110" y="365.3" font-size="5" text-anchor="end" fill="#333" font-family="Liberation Serif, serif">-200.0</text>
<text x="94.3" y="342" font-size="5" text-anchor="middle" fill="#333" font-family="Liberation Serif, serif" transform="rotate(-90 94.3 342)" textLength="45" lengthAdjust="spacingAndGlyphs">Ranked list metric</text>
<text x="117.8" y="326.3" font-size="5.8" fill="#e0603a" font-family="Liberation Serif, serif">Sp</text>
<text x="183.8" y="342" font-size="6" text-anchor="middle" fill="#222" font-family="Liberation Serif, serif" textLength="50" lengthAdjust="spacingAndGlyphs">Zero score at 6829</text>
<text x="173.7" y="359.5" font-size="6" text-anchor="middle" fill="#222" font-family="Liberation Serif, serif" textLength="63" lengthAdjust="spacingAndGlyphs">Rank in Ordered Dataset</text>
<text x="223" y="360.8" font-size="6" fill="#4a63c0" font-family="Liberation Serif, serif" textLength="21" lengthAdjust="spacingAndGlyphs">Control</text>
<line x1="111.8" y1="364" x2="111.8" y2="365.5" stroke="#333" stroke-width="0.6"/>
<text x="111.8" y="371.8" font-size="5.6" text-anchor="middle" fill="#222" font-family="Liberation Serif, serif">0</text>
<line x1="130" y1="364" x2="130" y2="365.5" stroke="#333" stroke-width="0.6"/>
<text x="130" y="371.8" font-size="5.6" text-anchor="middle" fill="#222" font-family="Liberation Serif, serif">2000</text>
<line x1="148.2" y1="364" x2="148.2" y2="365.5" stroke="#333" stroke-width="0.6"/>
<text x="148.2" y="371.8" font-size="5.6" text-anchor="middle" fill="#222" font-family="Liberation Serif, serif">4000</text>
<line x1="166.4" y1="364" x2="166.4" y2="365.5" stroke="#333" stroke-width="0.6"/>
<text x="166.4" y="371.8" font-size="5.6" text-anchor="middle" fill="#222" font-family="Liberation Serif, serif">6000</text>
<line x1="184.6" y1="364" x2="184.6" y2="365.5" stroke="#333" stroke-width="0.6"/>
<text x="184.6" y="371.8" font-size="5.6" text-anchor="middle" fill="#222" font-family="Liberation Serif, serif">8000</text>
<line x1="202.8" y1="364" x2="202.8" y2="365.5" stroke="#333" stroke-width="0.6"/>
<text x="202.8" y="371.8" font-size="5.6" text-anchor="middle" fill="#222" font-family="Liberation Serif, serif">10000</text>
<line x1="221" y1="364" x2="221" y2="365.5" stroke="#333" stroke-width="0.6"/>
<text x="221" y="371.8" font-size="5.6" text-anchor="middle" fill="#222" font-family="Liberation Serif, serif">12000</text>
<line x1="239.2" y1="364" x2="239.2" y2="365.5" stroke="#333" stroke-width="0.6"/>
<text x="239.2" y="371.8" font-size="5.6" text-anchor="middle" fill="#222" font-family="Liberation Serif, serif">14000</text>
<text x="326" y="228.7" font-size="16.5" fill="#231f20">D</text>
<text x="376" y="222" font-size="5.99" fill="#222" font-family="Liberation Serif, serif" textLength="91" lengthAdjust="spacingAndGlyphs">PID_NFKAPPAB_CANONICAL_PATHWAY</text>
<defs><linearGradient id="gD" x1="0" x2="1" y1="0" y2="0"><stop offset="0" stop-color="#f0d0d5"/><stop offset="0.1" stop-color="#f5dfe2"/><stop offset="0.15" stop-color="#faeef0"/><stop offset="0.25" stop-color="#fdf8f8"/><stop offset="0.3" stop-color="#fff"/><stop offset="0.78" stop-color="#fff"/><stop offset="0.8" stop-color="#f9f9fc"/><stop offset="0.9" stop-color="#f0f0f7"/><stop offset="0.92" stop-color="#e9e9f4"/><stop offset="1" stop-color="#e0e0f0"/></linearGradient></defs>
<rect x="369.5" y="304.2" width="143.2" height="8.4" fill="url(#gD)"/>
<line x1="369.5" y1="292.9" x2="512.7" y2="292.9" stroke="#bdbdbd" stroke-width="0.8"/>
<path d="M369.5 330.6 C372.71 331.6 380.2 331.9 401.6 332 L508.42 332.8 L512.7 334" fill="none" stroke="#c2d0de" stroke-width="1.6"/>
<line x1="436.3" y1="312.6" x2="436.3" y2="361.6" stroke="#888" stroke-width="0.6" stroke-dasharray="1.5 1.2"/>
<path d="M371 236 L372 233.5 L373.4 239.5 L374.6 233 L377 236.5 L378.6 232.6 L381.5 236.5 L383.5 233.5 L386 235.5 L394.7 240.4 L397 239.6 L408.7 245.2 L461 270 L463 269 L476 276.5 L477.5 275.8 L492 285.5 L495.5 287.2 L497.3 285.2 L500.2 288.8 L512.3 293.3" fill="none" stroke="#78c142" stroke-width="4.28" stroke-linejoin="round"/>
<line x1="370.8" y1="233.5" x2="370.8" y2="293" stroke="#78c142" stroke-width="2.6"/>
<line x1="373.2" y1="296" x2="373.2" y2="304.2" stroke="#4f80c2" stroke-width="0.75"/>
<line x1="378.4" y1="296" x2="378.4" y2="304.2" stroke="#4f80c2" stroke-width="0.75"/>
<line x1="383.5" y1="296" x2="383.5" y2="304.2" stroke="#4f80c2" stroke-width="0.75"/>
<line x1="395.4" y1="296" x2="395.4" y2="304.2" stroke="#4f80c2" stroke-width="0.75"/>
<line x1="397" y1="296" x2="397" y2="304.2" stroke="#4f80c2" stroke-width="0.75"/>
<line x1="409.4" y1="296" x2="409.4" y2="304.2" stroke="#4f80c2" stroke-width="0.75"/>
<line x1="421.1" y1="296" x2="421.1" y2="304.2" stroke="#4f80c2" stroke-width="0.75"/>
<line x1="422.3" y1="296" x2="422.3" y2="304.2" stroke="#4f80c2" stroke-width="0.75"/>
<line x1="427.9" y1="296" x2="427.9" y2="304.2" stroke="#4f80c2" stroke-width="0.75"/>
<line x1="432.1" y1="296" x2="432.1" y2="304.2" stroke="#4f80c2" stroke-width="0.75"/>
<line x1="445.4" y1="296" x2="445.4" y2="304.2" stroke="#4f80c2" stroke-width="0.75"/>
<line x1="450.3" y1="296" x2="450.3" y2="304.2" stroke="#4f80c2" stroke-width="0.75"/>
<line x1="462.5" y1="296" x2="462.5" y2="304.2" stroke="#4f80c2" stroke-width="0.75"/>
<line x1="475.3" y1="296" x2="475.3" y2="304.2" stroke="#4f80c2" stroke-width="0.75"/>
<line x1="492.4" y1="296" x2="492.4" y2="304.2" stroke="#4f80c2" stroke-width="0.75"/>
<line x1="499.4" y1="296" x2="499.4" y2="304.2" stroke="#4f80c2" stroke-width="0.75"/>
<rect x="369.5" y="230.6" width="143.2" height="131" fill="none" stroke="#111" stroke-width="1.1"/>
<line x1="369.5" y1="296" x2="512.7" y2="296" stroke="#111" stroke-width="1.1"/>
<line x1="369.5" y1="304.2" x2="512.7" y2="304.2" stroke="#111" stroke-width="1.1"/>
<line x1="368" y1="245.5" x2="369.5" y2="245.5" stroke="#333" stroke-width="0.6"/>
<text x="367.7" y="247.3" font-size="5.56" text-anchor="end" fill="#333" font-family="Liberation Serif, serif">0.6</text>
<line x1="368" y1="261" x2="369.5" y2="261" stroke="#333" stroke-width="0.6"/>
<text x="367.7" y="262.8" font-size="5.56" text-anchor="end" fill="#333" font-family="Liberation Serif, serif">0.4</text>
<line x1="368" y1="277" x2="369.5" y2="277" stroke="#333" stroke-width="0.6"/>
<text x="367.7" y="278.8" font-size="5.56" text-anchor="end" fill="#333" font-family="Liberation Serif, serif">0.2</text>
<line x1="368" y1="292.9" x2="369.5" y2="292.9" stroke="#333" stroke-width="0.6"/>
<text x="367.7" y="294.7" font-size="5.56" text-anchor="end" fill="#333" font-family="Liberation Serif, serif">0.0</text>
<text x="357.73" y="264.75" font-size="5.56" text-anchor="middle" fill="#333" font-family="Liberation Serif, serif" transform="rotate(-90 357.73 264.75)" textLength="42.8" lengthAdjust="spacingAndGlyphs">Enrichment Score</text>
<text x="383.6" y="274.8" font-size="6.42" fill="#222" font-family="Liberation Serif, serif" textLength="29.2" lengthAdjust="spacingAndGlyphs">NES: 1.881</text>
<text x="383.6" y="282.5" font-size="6.42" fill="#222" font-family="Liberation Serif, serif" textLength="32.12" lengthAdjust="spacingAndGlyphs">Pval: 0.014</text>
<text x="383.6" y="290.2" font-size="6.42" fill="#222" font-family="Liberation Serif, serif" textLength="29.2" lengthAdjust="spacingAndGlyphs">FDR: 0.075</text>
<line x1="368" y1="318.2" x2="369.5" y2="318.2" stroke="#333" stroke-width="0.6"/>
<text x="367.7" y="320" font-size="5.35" text-anchor="end" fill="#333" font-family="Liberation Serif, serif">100.0</text>
<line x1="368" y1="332.2" x2="369.5" y2="332.2" stroke="#333" stroke-width="0.6"/>
<text x="367.7" y="334" font-size="5.35" text-anchor="end" fill="#333" font-family="Liberation Serif, serif">0.0</text>
<line x1="368" y1="346.2" x2="369.5" y2="346.2" stroke="#333" stroke-width="0.6"/>
<text x="367.7" y="348" font-size="5.35" text-anchor="end" fill="#333" font-family="Liberation Serif, serif">-100.0</text>
<line x1="368" y1="360.5" x2="369.5" y2="360.5" stroke="#333" stroke-width="0.6"/>
<text x="367.7" y="362.3" font-size="5.35" text-anchor="end" fill="#333" font-family="Liberation Serif, serif">-200.0</text>
<text x="350.77" y="338.1" font-size="5.35" text-anchor="middle" fill="#333" font-family="Liberation Serif, serif" transform="rotate(-90 350.77 338.1)" textLength="48.15" lengthAdjust="spacingAndGlyphs">Ranked list metric</text>
<text x="376.7" y="320.9" font-size="6.21" fill="#e0603a" font-family="Liberation Serif, serif">Sp</text>
<text x="444.5" y="338.4" font-size="6.42" text-anchor="middle" fill="#222" font-family="Liberation Serif, serif" textLength="53.5" lengthAdjust="spacingAndGlyphs">Zero score at 6829</text>
<text x="440.3" y="356.9" font-size="6.42" text-anchor="middle" fill="#222" font-family="Liberation Serif, serif" textLength="67.41" lengthAdjust="spacingAndGlyphs">Rank in Ordered Dataset</text>
<text x="491.2" y="358.7" font-size="6.42" fill="#4a63c0" font-family="Liberation Serif, serif" textLength="22.47" lengthAdjust="spacingAndGlyphs">Control</text>
<line x1="369.5" y1="361.6" x2="369.5" y2="363.1" stroke="#333" stroke-width="0.6"/>
<text x="369.5" y="370" font-size="5.99" text-anchor="middle" fill="#222" font-family="Liberation Serif, serif">0</text>
<line x1="388.86" y1="361.6" x2="388.86" y2="363.1" stroke="#333" stroke-width="0.6"/>
<text x="388.86" y="370" font-size="5.99" text-anchor="middle" fill="#222" font-family="Liberation Serif, serif">2000</text>
<line x1="408.22" y1="361.6" x2="408.22" y2="363.1" stroke="#333" stroke-width="0.6"/>
<text x="408.22" y="370" font-size="5.99" text-anchor="middle" fill="#222" font-family="Liberation Serif, serif">4000</text>
<line x1="427.58" y1="361.6" x2="427.58" y2="363.1" stroke="#333" stroke-width="0.6"/>
<text x="427.58" y="370" font-size="5.99" text-anchor="middle" fill="#222" font-family="Liberation Serif, serif">6000</text>
<line x1="446.94" y1="361.6" x2="446.94" y2="363.1" stroke="#333" stroke-width="0.6"/>
<text x="446.94" y="370" font-size="5.99" text-anchor="middle" fill="#222" font-family="Liberation Serif, serif">8000</text>
<line x1="466.3" y1="361.6" x2="466.3" y2="363.1" stroke="#333" stroke-width="0.6"/>
<text x="466.3" y="370" font-size="5.99" text-anchor="middle" fill="#222" font-family="Liberation Serif, serif">10000</text>
<line x1="485.66" y1="361.6" x2="485.66" y2="363.1" stroke="#333" stroke-width="0.6"/>
<text x="485.66" y="370" font-size="5.99" text-anchor="middle" fill="#222" font-family="Liberation Serif, serif">12000</text>
<line x1="505.02" y1="361.6" x2="505.02" y2="363.1" stroke="#333" stroke-width="0.6"/>
<text x="505.02" y="370" font-size="5.99" text-anchor="middle" fill="#222" font-family="Liberation Serif, serif">14000</text>
<text x="-0.6" y="419" font-size="16.5" fill="#231f20">E</text>
<rect x="33.1" y="483.77" width="9.4" height="22.63" fill="#000"/>
<line x1="37.8" y1="482.63" x2="37.8" y2="484.9" stroke="#000" stroke-width="0.6"/>
<line x1="35.6" y1="482.63" x2="40" y2="482.63" stroke="#000" stroke-width="0.6"/>
<rect x="46.95" y="504.49" width="8.3" height="1.91" fill="#6b6b6b" stroke="#000" stroke-width="0.7"/>
<line x1="51.1" y1="503.46" x2="51.1" y2="504.82" stroke="#000" stroke-width="0.6"/>
<line x1="48.9" y1="503.46" x2="53.3" y2="503.46" stroke="#000" stroke-width="0.6"/>
<rect x="69.5" y="483.77" width="9.2" height="22.63" fill="#000"/>
<line x1="74.1" y1="480.37" x2="74.1" y2="487.16" stroke="#000" stroke-width="0.6"/>
<line x1="71.9" y1="480.37" x2="76.3" y2="480.37" stroke="#000" stroke-width="0.6"/>
<rect x="83.15" y="449.49" width="8.1" height="56.91" fill="#6b6b6b" stroke="#000" stroke-width="0.7"/>
<line x1="87.2" y1="442.35" x2="87.2" y2="455.93" stroke="#000" stroke-width="0.6"/>
<line x1="85" y1="442.35" x2="89.4" y2="442.35" stroke="#000" stroke-width="0.6"/>
<line x1="29.2" y1="438" x2="29.2" y2="507.15" stroke="#000" stroke-width="1.5"/>
<line x1="28.45" y1="506.6" x2="96" y2="506.6" stroke="#000" stroke-width="1.5"/>
<line x1="26.2" y1="506.4" x2="29.2" y2="506.4" stroke="#000" stroke-width="1.27"/>
<text x="25.6" y="508.2" font-size="5" font-weight="bold" text-anchor="end">0</text>
<line x1="26.2" y1="483.77" x2="29.2" y2="483.77" stroke="#000" stroke-width="1.27"/>
<text x="25.6" y="485.57" font-size="5" font-weight="bold" text-anchor="end">1</text>
<line x1="26.2" y1="461.13" x2="29.2" y2="461.13" stroke="#000" stroke-width="1.27"/>
<text x="25.6" y="462.93" font-size="5" font-weight="bold" text-anchor="end">2</text>
<line x1="26.2" y1="438.5" x2="29.2" y2="438.5" stroke="#000" stroke-width="1.27"/>
<text x="25.6" y="440.3" font-size="5" font-weight="bold" text-anchor="end">3</text>
<line x1="44.6" y1="506.4" x2="44.6" y2="509.4" stroke="#000" stroke-width="1.27"/>
<line x1="80.3" y1="506.4" x2="80.3" y2="509.4" stroke="#000" stroke-width="1.27"/>
<text x="18.9" y="472.7" font-size="5.5" font-weight="bold" text-anchor="middle" transform="rotate(-90 18.9 472.7)" textLength="53" lengthAdjust="spacingAndGlyphs">Relative mRNA level</text>
<line x1="38" y1="434.8" x2="52" y2="434.8" stroke="#000" stroke-width="2"/>
<text x="45.34" y="434.2" font-size="8" font-weight="bold" text-anchor="middle" letter-spacing="0.69">****</text>
<line x1="72.9" y1="434.4" x2="86.7" y2="434.4" stroke="#000" stroke-width="2"/>
<text x="80.14" y="434" font-size="8" font-weight="bold" text-anchor="middle" letter-spacing="0.69">**</text>
<rect x="104.2" y="441.6" width="7.6" height="3.9" fill="#000"/>
<text x="115.9" y="445.8" font-size="5.6" textLength="18.5" lengthAdjust="spacingAndGlyphs">Control</text>
<rect x="104.5" y="449.7" width="7" height="3.9" fill="#6b6b6b" stroke="#000" stroke-width="0.6"/>
<text x="115.9" y="453.6" font-size="5.6" textLength="23.5" lengthAdjust="spacingAndGlyphs">Spautin-1</text>
<text x="45.8" y="515.6" font-size="5.4" font-weight="bold" text-anchor="end" transform="rotate(-45 45.8 515.6)">Notch1</text>
<text x="81.5" y="515.6" font-size="5.4" font-weight="bold" text-anchor="end" transform="rotate(-45 81.5 515.6)">Hes1</text>
<rect x="165.7" y="491.5" width="9.6" height="14.1" fill="#000"/>
<line x1="170.5" y1="488.4" x2="170.5" y2="494.6" stroke="#000" stroke-width="0.6"/>
<line x1="168.3" y1="488.4" x2="172.7" y2="488.4" stroke="#000" stroke-width="0.6"/>
<rect x="179.85" y="501.02" width="8.9" height="4.59" fill="#6b6b6b" stroke="#000" stroke-width="0.7"/>
<line x1="184.3" y1="498.55" x2="184.3" y2="502.78" stroke="#000" stroke-width="0.6"/>
<line x1="182.1" y1="498.55" x2="186.5" y2="498.55" stroke="#000" stroke-width="0.6"/>
<rect x="202.9" y="491.5" width="9.6" height="14.1" fill="#000"/>
<line x1="207.7" y1="491.22" x2="207.7" y2="491.78" stroke="#000" stroke-width="0.6"/>
<line x1="205.5" y1="491.22" x2="209.9" y2="491.22" stroke="#000" stroke-width="0.6"/>
<rect x="217.25" y="456.6" width="9" height="49" fill="#6b6b6b" stroke="#000" stroke-width="0.7"/>
<line x1="221.75" y1="449.2" x2="221.75" y2="463.3" stroke="#000" stroke-width="0.6"/>
<line x1="219.55" y1="449.2" x2="223.95" y2="449.2" stroke="#000" stroke-width="0.6"/>
<line x1="161.3" y1="434.6" x2="161.3" y2="506.35" stroke="#000" stroke-width="1.5"/>
<line x1="160.55" y1="505.8" x2="231.2" y2="505.8" stroke="#000" stroke-width="1.5"/>
<line x1="158.3" y1="505.6" x2="161.3" y2="505.6" stroke="#000" stroke-width="1.27"/>
<text x="157.7" y="507.4" font-size="5" font-weight="bold" text-anchor="end">0</text>
<line x1="158.3" y1="491.5" x2="161.3" y2="491.5" stroke="#000" stroke-width="1.27"/>
<text x="157.7" y="493.3" font-size="5" font-weight="bold" text-anchor="end">1</text>
<line x1="158.3" y1="477.4" x2="161.3" y2="477.4" stroke="#000" stroke-width="1.27"/>
<text x="157.7" y="479.2" font-size="5" font-weight="bold" text-anchor="end">2</text>
<line x1="158.3" y1="463.3" x2="161.3" y2="463.3" stroke="#000" stroke-width="1.27"/>
<text x="157.7" y="465.1" font-size="5" font-weight="bold" text-anchor="end">3</text>
<line x1="158.3" y1="449.2" x2="161.3" y2="449.2" stroke="#000" stroke-width="1.27"/>
<text x="157.7" y="451" font-size="5" font-weight="bold" text-anchor="end">4</text>
<line x1="158.3" y1="435.1" x2="161.3" y2="435.1" stroke="#000" stroke-width="1.27"/>
<text x="157.7" y="436.9" font-size="5" font-weight="bold" text-anchor="end">5</text>
<line x1="177.4" y1="505.6" x2="177.4" y2="508.6" stroke="#000" stroke-width="1.27"/>
<line x1="214.7" y1="505.6" x2="214.7" y2="508.6" stroke="#000" stroke-width="1.27"/>
<text x="151.2" y="470" font-size="5.7" font-weight="bold" text-anchor="middle" transform="rotate(-90 151.2 470)" textLength="55.5" lengthAdjust="spacingAndGlyphs">Relative mRNA level</text>
<line x1="171.6" y1="434.8" x2="183.2" y2="434.8" stroke="#000" stroke-width="2"/>
<text x="177.4" y="431.4" font-size="5.6" font-weight="bold" text-anchor="middle">ns</text>
<line x1="207" y1="434.8" x2="218.7" y2="434.8" stroke="#000" stroke-width="2"/>
<text x="213.19" y="433.9" font-size="8" font-weight="bold" text-anchor="middle" letter-spacing="0.69">*</text>
<rect x="235.1" y="438.8" width="7.7" height="3.6" fill="#000"/>
<text x="247.1" y="442.8" font-size="5.6" textLength="18.5" lengthAdjust="spacingAndGlyphs">Control</text>
<rect x="235.4" y="447.8" width="7.1" height="3.4" fill="#6b6b6b" stroke="#000" stroke-width="0.6"/>
<text x="247.1" y="451.6" font-size="5.6" textLength="23.5" lengthAdjust="spacingAndGlyphs">Spautin-1</text>
<text x="178.6" y="514.8" font-size="5.4" font-weight="bold" text-anchor="end" transform="rotate(-45 178.6 514.8)">Notch1</text>
<text x="215.9" y="514.8" font-size="5.4" font-weight="bold" text-anchor="end" transform="rotate(-45 215.9 514.8)">Hes1</text>
<text x="279.3" y="418.6" font-size="16.5" fill="#231f20">F</text>
<rect x="312.4" y="494.5" width="6.5" height="10.3" fill="#000"/>
<line x1="315.65" y1="492.44" x2="315.65" y2="496.56" stroke="#000" stroke-width="0.6"/>
<line x1="313.65" y1="492.44" x2="317.65" y2="492.44" stroke="#000" stroke-width="0.6"/>
<rect x="322.15" y="486.61" width="5.9" height="18.19" fill="#6b6b6b" stroke="#000" stroke-width="0.7"/>
<line x1="325.1" y1="483.17" x2="325.1" y2="489.35" stroke="#000" stroke-width="0.6"/>
<line x1="323.1" y1="483.17" x2="327.1" y2="483.17" stroke="#000" stroke-width="0.6"/>
<rect x="337.45" y="494.5" width="6.5" height="10.3" fill="#000"/>
<line x1="340.7" y1="491.93" x2="340.7" y2="497.07" stroke="#000" stroke-width="0.6"/>
<line x1="338.7" y1="491.93" x2="342.7" y2="491.93" stroke="#000" stroke-width="0.6"/>
<rect x="347.2" y="480.95" width="5.9" height="23.85" fill="#6b6b6b" stroke="#000" stroke-width="0.7"/>
<line x1="350.15" y1="478.02" x2="350.15" y2="483.17" stroke="#000" stroke-width="0.6"/>
<line x1="348.15" y1="478.02" x2="352.15" y2="478.02" stroke="#000" stroke-width="0.6"/>
<rect x="362.5" y="494.5" width="6.5" height="10.3" fill="#000"/>
<line x1="365.75" y1="493.47" x2="365.75" y2="495.53" stroke="#000" stroke-width="0.6"/>
<line x1="363.75" y1="493.47" x2="367.75" y2="493.47" stroke="#000" stroke-width="0.6"/>
<rect x="372.25" y="443.35" width="5.9" height="61.45" fill="#6b6b6b" stroke="#000" stroke-width="0.7"/>
<line x1="375.2" y1="436.31" x2="375.2" y2="449.69" stroke="#000" stroke-width="0.6"/>
<line x1="373.2" y1="436.31" x2="377.2" y2="436.31" stroke="#000" stroke-width="0.6"/>
<rect x="387.55" y="494.5" width="6.5" height="10.3" fill="#000"/>
<line x1="390.8" y1="492.44" x2="390.8" y2="496.56" stroke="#000" stroke-width="0.6"/>
<line x1="388.8" y1="492.44" x2="392.8" y2="492.44" stroke="#000" stroke-width="0.6"/>
<rect x="397.3" y="482.49" width="5.9" height="22.31" fill="#6b6b6b" stroke="#000" stroke-width="0.7"/>
<line x1="400.25" y1="481.11" x2="400.25" y2="483.17" stroke="#000" stroke-width="0.6"/>
<line x1="398.25" y1="481.11" x2="402.25" y2="481.11" stroke="#000" stroke-width="0.6"/>
<rect x="412.6" y="494.5" width="6.5" height="10.3" fill="#000"/>
<line x1="415.85" y1="493.99" x2="415.85" y2="495.01" stroke="#000" stroke-width="0.6"/>
<line x1="413.85" y1="493.99" x2="417.85" y2="493.99" stroke="#000" stroke-width="0.6"/>
<rect x="422.35" y="486.61" width="5.9" height="18.19" fill="#6b6b6b" stroke="#000" stroke-width="0.7"/>
<line x1="425.3" y1="485.85" x2="425.3" y2="486.67" stroke="#000" stroke-width="0.6"/>
<line x1="423.3" y1="485.85" x2="427.3" y2="485.85" stroke="#000" stroke-width="0.6"/>
<line x1="306.3" y1="421.9" x2="306.3" y2="505.55" stroke="#000" stroke-width="1.5"/>
<line x1="305.55" y1="505" x2="431.7" y2="505" stroke="#000" stroke-width="1.5"/>
<line x1="303.3" y1="504.8" x2="306.3" y2="504.8" stroke="#000" stroke-width="1.27"/>
<text x="302.7" y="506.6" font-size="5" font-weight="bold" text-anchor="end">0</text>
<line x1="303.3" y1="494.5" x2="306.3" y2="494.5" stroke="#000" stroke-width="1.27"/>
<text x="302.7" y="496.3" font-size="5" font-weight="bold" text-anchor="end">1</text>
<line x1="303.3" y1="484.2" x2="306.3" y2="484.2" stroke="#000" stroke-width="1.27"/>
<text x="302.7" y="486" font-size="5" font-weight="bold" text-anchor="end">2</text>
<line x1="303.3" y1="473.9" x2="306.3" y2="473.9" stroke="#000" stroke-width="1.27"/>
<text x="302.7" y="475.7" font-size="5" font-weight="bold" text-anchor="end">3</text>
<line x1="303.3" y1="463.6" x2="306.3" y2="463.6" stroke="#000" stroke-width="1.27"/>
<text x="302.7" y="465.4" font-size="5" font-weight="bold" text-anchor="end">4</text>
<line x1="303.3" y1="453.3" x2="306.3" y2="453.3" stroke="#000" stroke-width="1.27"/>
<text x="302.7" y="455.1" font-size="5" font-weight="bold" text-anchor="end">5</text>
<line x1="303.3" y1="443" x2="306.3" y2="443" stroke="#000" stroke-width="1.27"/>
<text x="302.7" y="444.8" font-size="5" font-weight="bold" text-anchor="end">6</text>
<line x1="303.3" y1="432.7" x2="306.3" y2="432.7" stroke="#000" stroke-width="1.27"/>
<text x="302.7" y="434.5" font-size="5" font-weight="bold" text-anchor="end">7</text>
<line x1="303.3" y1="422.4" x2="306.3" y2="422.4" stroke="#000" stroke-width="1.27"/>
<text x="302.7" y="424.2" font-size="5" font-weight="bold" text-anchor="end">8</text>
<line x1="320.4" y1="504.8" x2="320.4" y2="507.8" stroke="#000" stroke-width="1.27"/>
<line x1="345.45" y1="504.8" x2="345.45" y2="507.8" stroke="#000" stroke-width="1.27"/>
<line x1="370.5" y1="504.8" x2="370.5" y2="507.8" stroke="#000" stroke-width="1.27"/>
<line x1="395.55" y1="504.8" x2="395.55" y2="507.8" stroke="#000" stroke-width="1.27"/>
<line x1="420.6" y1="504.8" x2="420.6" y2="507.8" stroke="#000" stroke-width="1.27"/>
<text x="297.9" y="463.5" font-size="6.5" font-weight="bold" text-anchor="middle" transform="rotate(-90 297.9 463.5)" textLength="64" lengthAdjust="spacingAndGlyphs">Relative mRNA level</text>
<line x1="313.3" y1="427.8" x2="323.1" y2="427.8" stroke="#000" stroke-width="2"/>
<text x="318.61" y="428.55" font-size="11" font-weight="bold" text-anchor="middle" letter-spacing="0.82">*</text>
<line x1="337.3" y1="427.8" x2="347.1" y2="427.8" stroke="#000" stroke-width="2"/>
<text x="342.61" y="428.55" font-size="11" font-weight="bold" text-anchor="middle" letter-spacing="0.82">**</text>
<line x1="363.1" y1="427.8" x2="372.9" y2="427.8" stroke="#000" stroke-width="2"/>
<text x="368.41" y="428.55" font-size="11" font-weight="bold" text-anchor="middle" letter-spacing="0.82">**</text>
<line x1="386.3" y1="427.8" x2="396.1" y2="427.8" stroke="#000" stroke-width="2"/>
<text x="391.61" y="428.55" font-size="11" font-weight="bold" text-anchor="middle" letter-spacing="0.82">*</text>
<line x1="411.4" y1="427.8" x2="421.2" y2="427.8" stroke="#000" stroke-width="2"/>
<text x="416.71" y="428.55" font-size="11" font-weight="bold" text-anchor="middle" letter-spacing="0.82">****</text>
<rect x="439.7" y="425.9" width="9.1" height="4.8" fill="#000"/>
<text x="453.7" y="430.6" font-size="6.6" textLength="21" lengthAdjust="spacingAndGlyphs">Control</text>
<rect x="440" y="437.4" width="8.5" height="4" fill="#6b6b6b" stroke="#000" stroke-width="0.6"/>
<text x="453.7" y="441.8" font-size="6.6" textLength="27" lengthAdjust="spacingAndGlyphs">Spautin-1</text>
<text x="322" y="514.6" font-size="6.4" font-weight="bold" text-anchor="end" transform="rotate(-45 322 514.6)">BIRC3</text>
<text x="347.05" y="514.6" font-size="6.4" font-weight="bold" text-anchor="end" transform="rotate(-45 347.05 514.6)">CD44</text>
<text x="372.1" y="514.6" font-size="6.4" font-weight="bold" text-anchor="end" transform="rotate(-45 372.1 514.6)">TNFAIP3</text>
<text x="397.15" y="514.6" font-size="6.4" font-weight="bold" text-anchor="end" transform="rotate(-45 397.15 514.6)">CD80</text>
<text x="422.2" y="514.6" font-size="6.4" font-weight="bold" text-anchor="end" transform="rotate(-45 422.2 514.6)">TNFRSF14</text>
<rect x="516.3" y="471.88" width="6.5" height="32.72" fill="#000"/>
<line x1="519.55" y1="469.26" x2="519.55" y2="474.5" stroke="#000" stroke-width="0.6"/>
<line x1="517.55" y1="469.26" x2="521.55" y2="469.26" stroke="#000" stroke-width="0.6"/>
<rect x="525.55" y="455.22" width="5.8" height="49.38" fill="#6b6b6b" stroke="#000" stroke-width="0.7"/>
<line x1="528.45" y1="448.98" x2="528.45" y2="460.76" stroke="#000" stroke-width="0.6"/>
<line x1="526.45" y1="448.98" x2="530.45" y2="448.98" stroke="#000" stroke-width="0.6"/>
<rect x="540.75" y="471.88" width="6.5" height="32.72" fill="#000"/>
<line x1="544" y1="465.34" x2="544" y2="478.42" stroke="#000" stroke-width="0.6"/>
<line x1="542" y1="465.34" x2="546" y2="465.34" stroke="#000" stroke-width="0.6"/>
<rect x="550" y="441.8" width="5.8" height="62.8" fill="#6b6b6b" stroke="#000" stroke-width="0.7"/>
<line x1="552.9" y1="437.2" x2="552.9" y2="445.7" stroke="#000" stroke-width="0.6"/>
<line x1="550.9" y1="437.2" x2="554.9" y2="437.2" stroke="#000" stroke-width="0.6"/>
<rect x="565.2" y="471.88" width="6.5" height="32.72" fill="#000"/>
<line x1="568.45" y1="462.06" x2="568.45" y2="481.7" stroke="#000" stroke-width="0.6"/>
<line x1="566.45" y1="462.06" x2="570.45" y2="462.06" stroke="#000" stroke-width="0.6"/>
<rect x="574.45" y="442.78" width="5.8" height="61.82" fill="#6b6b6b" stroke="#000" stroke-width="0.7"/>
<line x1="577.35" y1="438.18" x2="577.35" y2="446.69" stroke="#000" stroke-width="0.6"/>
<line x1="575.35" y1="438.18" x2="579.35" y2="438.18" stroke="#000" stroke-width="0.6"/>
<rect x="589.65" y="471.88" width="6.5" height="32.72" fill="#000"/>
<line x1="592.9" y1="471.55" x2="592.9" y2="472.21" stroke="#000" stroke-width="0.6"/>
<line x1="590.9" y1="471.55" x2="594.9" y2="471.55" stroke="#000" stroke-width="0.6"/>
<rect x="598.9" y="449.65" width="5.8" height="54.95" fill="#6b6b6b" stroke="#000" stroke-width="0.7"/>
<line x1="601.8" y1="447.34" x2="601.8" y2="451.27" stroke="#000" stroke-width="0.6"/>
<line x1="599.8" y1="447.34" x2="603.8" y2="447.34" stroke="#000" stroke-width="0.6"/>
<rect x="614.1" y="471.88" width="6.5" height="32.72" fill="#000"/>
<line x1="617.35" y1="465.34" x2="617.35" y2="478.42" stroke="#000" stroke-width="0.6"/>
<line x1="615.35" y1="465.34" x2="619.35" y2="465.34" stroke="#000" stroke-width="0.6"/>
<rect x="623.35" y="448.67" width="5.8" height="55.93" fill="#6b6b6b" stroke="#000" stroke-width="0.7"/>
<line x1="626.25" y1="447.99" x2="626.25" y2="448.65" stroke="#000" stroke-width="0.6"/>
<line x1="624.25" y1="447.99" x2="628.25" y2="447.99" stroke="#000" stroke-width="0.6"/>
<line x1="513.6" y1="422.3" x2="513.6" y2="505.35" stroke="#000" stroke-width="1.5"/>
<line x1="512.85" y1="504.8" x2="632.5" y2="504.8" stroke="#000" stroke-width="1.5"/>
<line x1="510.6" y1="504.6" x2="513.6" y2="504.6" stroke="#000" stroke-width="1.27"/>
<text x="510" y="506.4" font-size="5" font-weight="bold" text-anchor="end">0.0</text>
<line x1="510.6" y1="488.24" x2="513.6" y2="488.24" stroke="#000" stroke-width="1.27"/>
<text x="510" y="490.04" font-size="5" font-weight="bold" text-anchor="end">0.5</text>
<line x1="510.6" y1="471.88" x2="513.6" y2="471.88" stroke="#000" stroke-width="1.27"/>
<text x="510" y="473.68" font-size="5" font-weight="bold" text-anchor="end">1.0</text>
<line x1="510.6" y1="455.52" x2="513.6" y2="455.52" stroke="#000" stroke-width="1.27"/>
<text x="510" y="457.32" font-size="5" font-weight="bold" text-anchor="end">1.5</text>
<line x1="510.6" y1="439.16" x2="513.6" y2="439.16" stroke="#000" stroke-width="1.27"/>
<text x="510" y="440.96" font-size="5" font-weight="bold" text-anchor="end">2.0</text>
<line x1="510.6" y1="422.8" x2="513.6" y2="422.8" stroke="#000" stroke-width="1.27"/>
<text x="510" y="424.6" font-size="5" font-weight="bold" text-anchor="end">2.5</text>
<line x1="523.9" y1="504.6" x2="523.9" y2="507.6" stroke="#000" stroke-width="1.27"/>
<line x1="548.35" y1="504.6" x2="548.35" y2="507.6" stroke="#000" stroke-width="1.27"/>
<line x1="572.8" y1="504.6" x2="572.8" y2="507.6" stroke="#000" stroke-width="1.27"/>
<line x1="597.25" y1="504.6" x2="597.25" y2="507.6" stroke="#000" stroke-width="1.27"/>
<line x1="621.7" y1="504.6" x2="621.7" y2="507.6" stroke="#000" stroke-width="1.27"/>
<text x="496.5" y="463.5" font-size="6.5" font-weight="bold" text-anchor="middle" transform="rotate(-90 496.5 463.5)" textLength="64" lengthAdjust="spacingAndGlyphs">Relative mRNA level</text>
<line x1="518" y1="426.8" x2="526.6" y2="426.8" stroke="#000" stroke-width="2"/>
<text x="522.64" y="427.73" font-size="10.6" font-weight="bold" text-anchor="middle" letter-spacing="0.68">**</text>
<line x1="542" y1="426.8" x2="550.6" y2="426.8" stroke="#000" stroke-width="2"/>
<text x="546.64" y="427.73" font-size="10.6" font-weight="bold" text-anchor="middle" letter-spacing="0.68">**</text>
<line x1="567.9" y1="426.8" x2="576.5" y2="426.8" stroke="#000" stroke-width="2"/>
<text x="572.54" y="427.73" font-size="10.6" font-weight="bold" text-anchor="middle" letter-spacing="0.68">**</text>
<line x1="592.7" y1="426.8" x2="601.3" y2="426.8" stroke="#000" stroke-width="2"/>
<text x="597.34" y="427.73" font-size="10.6" font-weight="bold" text-anchor="middle" letter-spacing="0.68">***</text>
<line x1="617.8" y1="428.1" x2="626.4" y2="428.1" stroke="#000" stroke-width="2"/>
<text x="622.44" y="429.13" font-size="10.6" font-weight="bold" text-anchor="middle" letter-spacing="0.68">*</text>
<rect x="639.2" y="426.2" width="9.3" height="5.1" fill="#000"/>
<text x="652.9" y="431.2" font-size="6.6" textLength="21" lengthAdjust="spacingAndGlyphs">Control</text>
<rect x="639.5" y="437.2" width="8.7" height="4.6" fill="#6b6b6b" stroke="#000" stroke-width="0.6"/>
<text x="652.9" y="441.9" font-size="6.6" textLength="27" lengthAdjust="spacingAndGlyphs">Spautin-1</text>
<text x="525.5" y="514.4" font-size="6.4" font-weight="bold" text-anchor="end" transform="rotate(-45 525.5 514.4)">BIRC3</text>
<text x="549.95" y="514.4" font-size="6.4" font-weight="bold" text-anchor="end" transform="rotate(-45 549.95 514.4)">CD44</text>
<text x="574.4" y="514.4" font-size="6.4" font-weight="bold" text-anchor="end" transform="rotate(-45 574.4 514.4)">TNFAIP3</text>
<text x="598.85" y="514.4" font-size="6.4" font-weight="bold" text-anchor="end" transform="rotate(-45 598.85 514.4)">CD80</text>
<text x="623.3" y="514.4" font-size="6.4" font-weight="bold" text-anchor="end" transform="rotate(-45 623.3 514.4)">TNFRSF14</text>
<text x="21.6" y="583.3" font-size="16.5" fill="#231f20">G</text>
<line x1="73.7" y1="588.7" x2="73.7" y2="679.1" stroke="#000" stroke-width="1.7"/>
<line x1="72.8" y1="678.4" x2="205.6" y2="678.4" stroke="#000" stroke-width="1.8"/>
<line x1="70.2" y1="678.2" x2="73.4" y2="678.2" stroke="#000" stroke-width="1.4"/>
<text x="70.1" y="681.5" font-size="6.5" font-weight="bold" text-anchor="end">0</text>
<line x1="70.2" y1="663.37" x2="73.4" y2="663.37" stroke="#000" stroke-width="1.4"/>
<text x="70.1" y="666.67" font-size="6.5" font-weight="bold" text-anchor="end">20</text>
<line x1="70.2" y1="648.53" x2="73.4" y2="648.53" stroke="#000" stroke-width="1.4"/>
<text x="70.1" y="651.83" font-size="6.5" font-weight="bold" text-anchor="end">40</text>
<line x1="70.2" y1="633.7" x2="73.4" y2="633.7" stroke="#000" stroke-width="1.4"/>
<text x="70.1" y="637" font-size="6.5" font-weight="bold" text-anchor="end">60</text>
<line x1="70.2" y1="618.87" x2="73.4" y2="618.87" stroke="#000" stroke-width="1.4"/>
<text x="70.1" y="622.17" font-size="6.5" font-weight="bold" text-anchor="end">80</text>
<line x1="70.2" y1="604.03" x2="73.4" y2="604.03" stroke="#000" stroke-width="1.4"/>
<text x="70.1" y="607.33" font-size="6.5" font-weight="bold" text-anchor="end">100</text>
<line x1="70.2" y1="589.2" x2="73.4" y2="589.2" stroke="#000" stroke-width="1.4"/>
<text x="70.1" y="592.5" font-size="6.5" font-weight="bold" text-anchor="end">120</text>
<line x1="86.5" y1="678.2" x2="86.5" y2="681.6" stroke="#000" stroke-width="1.4"/>
<text x="86.5" y="688.6" font-size="6.4" font-weight="bold" text-anchor="middle">5</text>
<line x1="113.4" y1="678.2" x2="113.4" y2="681.6" stroke="#000" stroke-width="1.4"/>
<text x="113.4" y="688.6" font-size="6.4" font-weight="bold" text-anchor="middle">10</text>
<line x1="139.7" y1="678.2" x2="139.7" y2="681.6" stroke="#000" stroke-width="1.4"/>
<text x="139.7" y="688.6" font-size="6.4" font-weight="bold" text-anchor="middle">20</text>
<line x1="166" y1="678.2" x2="166" y2="681.6" stroke="#000" stroke-width="1.4"/>
<text x="166" y="688.6" font-size="6.4" font-weight="bold" text-anchor="middle">40</text>
<line x1="192.2" y1="678.2" x2="192.2" y2="681.6" stroke="#000" stroke-width="1.4"/>
<text x="192.2" y="688.6" font-size="6.4" font-weight="bold" text-anchor="middle">80</text>
<text x="202.8" y="689.5" font-size="7.2" font-weight="bold" textLength="44" lengthAdjust="spacingAndGlyphs">Spautin-1(μM)</text>
<text x="53" y="633.6" font-size="6" font-weight="bold" text-anchor="middle" transform="rotate(-90 53 633.6)" textLength="51" lengthAdjust="spacingAndGlyphs">Cell viability(%)</text>
<path d="M86.5 609.97 L113.4 612.19 L139.7 641.86 L166 643.34 L192.2 644.83" fill="none" stroke="#3b55b3" stroke-width="1.1"/>
<line x1="86.5" y1="609.97" x2="86.5" y2="601.81" stroke="#3b55b3" stroke-width="0.9"/>
<line x1="84.8" y1="601.81" x2="88.2" y2="601.81" stroke="#3b55b3" stroke-width="0.9"/>
<circle cx="86.5" cy="609.97" r="1.9" fill="#3b55b3"/>
<line x1="113.4" y1="612.19" x2="113.4" y2="610.71" stroke="#3b55b3" stroke-width="0.9"/>
<line x1="111.7" y1="610.71" x2="115.1" y2="610.71" stroke="#3b55b3" stroke-width="0.9"/>
<circle cx="113.4" cy="612.19" r="1.9" fill="#3b55b3"/>
<line x1="139.7" y1="641.86" x2="139.7" y2="640.38" stroke="#3b55b3" stroke-width="0.9"/>
<line x1="138" y1="640.38" x2="141.4" y2="640.38" stroke="#3b55b3" stroke-width="0.9"/>
<circle cx="139.7" cy="641.86" r="1.9" fill="#3b55b3"/>
<line x1="166" y1="643.34" x2="166" y2="638.89" stroke="#3b55b3" stroke-width="0.9"/>
<line x1="164.3" y1="638.89" x2="167.7" y2="638.89" stroke="#3b55b3" stroke-width="0.9"/>
<circle cx="166" cy="643.34" r="1.9" fill="#3b55b3"/>
<line x1="192.2" y1="644.83" x2="192.2" y2="638.15" stroke="#3b55b3" stroke-width="0.9"/>
<line x1="190.5" y1="638.15" x2="193.9" y2="638.15" stroke="#3b55b3" stroke-width="0.9"/>
<circle cx="192.2" cy="644.83" r="1.9" fill="#3b55b3"/>
<path d="M86.5 618.87 L113.4 632.22 L139.7 637.41 L166 643.34 L192.2 645.57" fill="none" stroke="#52c24a" stroke-width="1.1"/>
<line x1="86.5" y1="618.87" x2="86.5" y2="616.64" stroke="#52c24a" stroke-width="0.9"/>
<line x1="84.8" y1="616.64" x2="88.2" y2="616.64" stroke="#52c24a" stroke-width="0.9"/>
<circle cx="86.5" cy="618.87" r="1.9" fill="#52c24a"/>
<line x1="113.4" y1="632.22" x2="113.4" y2="625.54" stroke="#52c24a" stroke-width="0.9"/>
<line x1="111.7" y1="625.54" x2="115.1" y2="625.54" stroke="#52c24a" stroke-width="0.9"/>
<circle cx="113.4" cy="632.22" r="1.9" fill="#52c24a"/>
<line x1="139.7" y1="637.41" x2="139.7" y2="629.25" stroke="#52c24a" stroke-width="0.9"/>
<line x1="138" y1="629.25" x2="141.4" y2="629.25" stroke="#52c24a" stroke-width="0.9"/>
<circle cx="139.7" cy="637.41" r="1.9" fill="#52c24a"/>
<line x1="166" y1="643.34" x2="166" y2="641.12" stroke="#52c24a" stroke-width="0.9"/>
<line x1="164.3" y1="641.12" x2="167.7" y2="641.12" stroke="#52c24a" stroke-width="0.9"/>
<circle cx="166" cy="643.34" r="1.9" fill="#52c24a"/>
<line x1="192.2" y1="645.57" x2="192.2" y2="640.38" stroke="#52c24a" stroke-width="0.9"/>
<line x1="190.5" y1="640.38" x2="193.9" y2="640.38" stroke="#52c24a" stroke-width="0.9"/>
<circle cx="192.2" cy="645.57" r="1.9" fill="#52c24a"/>
<path d="M86.5 630.73 L113.4 637.41 L139.7 637.41 L166 635.18 L192.2 650.02" fill="none" stroke="#ef6a32" stroke-width="1.1"/>
<line x1="86.5" y1="630.73" x2="86.5" y2="627.77" stroke="#ef6a32" stroke-width="0.9"/>
<line x1="84.8" y1="627.77" x2="88.2" y2="627.77" stroke="#ef6a32" stroke-width="0.9"/>
<circle cx="86.5" cy="630.73" r="1.9" fill="#ef6a32"/>
<line x1="113.4" y1="637.41" x2="113.4" y2="636.3" stroke="#ef6a32" stroke-width="0.9"/>
<line x1="111.7" y1="636.3" x2="115.1" y2="636.3" stroke="#ef6a32" stroke-width="0.9"/>
<circle cx="113.4" cy="637.41" r="1.9" fill="#ef6a32"/>
<line x1="139.7" y1="637.41" x2="139.7" y2="630.73" stroke="#ef6a32" stroke-width="0.9"/>
<line x1="138" y1="630.73" x2="141.4" y2="630.73" stroke="#ef6a32" stroke-width="0.9"/>
<circle cx="139.7" cy="637.41" r="1.9" fill="#ef6a32"/>
<line x1="166" y1="635.18" x2="166" y2="632.22" stroke="#ef6a32" stroke-width="0.9"/>
<line x1="164.3" y1="632.22" x2="167.7" y2="632.22" stroke="#ef6a32" stroke-width="0.9"/>
<circle cx="166" cy="635.18" r="1.9" fill="#ef6a32"/>
<line x1="192.2" y1="650.02" x2="192.2" y2="647.79" stroke="#ef6a32" stroke-width="0.9"/>
<line x1="190.5" y1="647.79" x2="193.9" y2="647.79" stroke="#ef6a32" stroke-width="0.9"/>
<circle cx="192.2" cy="650.02" r="1.9" fill="#ef6a32"/>
<path d="M86.5 611.45 L113.4 632.22 L139.7 648.53 L166 657.43 L192.2 658.18" fill="none" stroke="#e4312a" stroke-width="1.1"/>
<line x1="86.5" y1="611.45" x2="86.5" y2="608.48" stroke="#e4312a" stroke-width="0.9"/>
<line x1="84.8" y1="608.48" x2="88.2" y2="608.48" stroke="#e4312a" stroke-width="0.9"/>
<circle cx="86.5" cy="611.45" r="1.9" fill="#e4312a"/>
<line x1="113.4" y1="632.22" x2="113.4" y2="628.51" stroke="#e4312a" stroke-width="0.9"/>
<line x1="111.7" y1="628.51" x2="115.1" y2="628.51" stroke="#e4312a" stroke-width="0.9"/>
<circle cx="113.4" cy="632.22" r="1.9" fill="#e4312a"/>
<line x1="139.7" y1="648.53" x2="139.7" y2="647.05" stroke="#e4312a" stroke-width="0.9"/>
<line x1="138" y1="647.05" x2="141.4" y2="647.05" stroke="#e4312a" stroke-width="0.9"/>
<circle cx="139.7" cy="648.53" r="1.9" fill="#e4312a"/>
<line x1="166" y1="657.43" x2="166" y2="656.32" stroke="#e4312a" stroke-width="0.9"/>
<line x1="164.3" y1="656.32" x2="167.7" y2="656.32" stroke="#e4312a" stroke-width="0.9"/>
<circle cx="166" cy="657.43" r="1.9" fill="#e4312a"/>
<line x1="192.2" y1="658.18" x2="192.2" y2="655.95" stroke="#e4312a" stroke-width="0.9"/>
<line x1="190.5" y1="655.95" x2="193.9" y2="655.95" stroke="#e4312a" stroke-width="0.9"/>
<circle cx="192.2" cy="658.18" r="1.9" fill="#e4312a"/>
<line x1="219.2" y1="594.6" x2="228.7" y2="594.6" stroke="#e4312a" stroke-width="0.9"/>
<circle cx="223.9" cy="594.6" r="1.5" fill="#e4312a"/>
<text x="233.8" y="597.2" font-size="7.4" fill="#111">WSU-DLCL-2</text>
<line x1="219.2" y1="606.6" x2="228.7" y2="606.6" stroke="#ef6a32" stroke-width="0.9"/>
<circle cx="223.9" cy="606.6" r="1.5" fill="#ef6a32"/>
<text x="233.8" y="609.2" font-size="7.4" fill="#111">U2932</text>
<line x1="219.2" y1="619" x2="228.7" y2="619" stroke="#52c24a" stroke-width="0.9"/>
<circle cx="223.9" cy="619" r="1.5" fill="#52c24a"/>
<text x="233.8" y="621.6" font-size="7.4" fill="#111">Su-DHL-2</text>
<line x1="219.2" y1="630.8" x2="228.7" y2="630.8" stroke="#3b55b3" stroke-width="0.9"/>
<circle cx="223.9" cy="630.8" r="1.5" fill="#3b55b3"/>
<text x="233.8" y="633.4" font-size="7.4" fill="#111">farage</text>
<text x="311.7" y="579.3" font-size="16.5" fill="#231f20">H</text>
<text x="407.5" y="574.2" font-size="9.2" font-weight="bold" text-anchor="middle">HMy2.CIR</text>
<line x1="360.75" y1="584.7" x2="360.75" y2="679.2" stroke="#000" stroke-width="1.7"/>
<line x1="359.9" y1="678.4" x2="453.7" y2="678.4" stroke="#000" stroke-width="1.8"/>
<line x1="357.3" y1="678" x2="360.3" y2="678" stroke="#000" stroke-width="1.4"/>
<text x="357" y="681.3" font-size="6.5" font-weight="bold" text-anchor="end">0</text>
<line x1="357.3" y1="662.53" x2="360.3" y2="662.53" stroke="#000" stroke-width="1.4"/>
<text x="357" y="665.83" font-size="6.5" font-weight="bold" text-anchor="end">20</text>
<line x1="357.3" y1="647.07" x2="360.3" y2="647.07" stroke="#000" stroke-width="1.4"/>
<text x="357" y="650.37" font-size="6.5" font-weight="bold" text-anchor="end">40</text>
<line x1="357.3" y1="631.6" x2="360.3" y2="631.6" stroke="#000" stroke-width="1.4"/>
<text x="357" y="634.9" font-size="6.5" font-weight="bold" text-anchor="end">60</text>
<line x1="357.3" y1="616.13" x2="360.3" y2="616.13" stroke="#000" stroke-width="1.4"/>
<text x="357" y="619.43" font-size="6.5" font-weight="bold" text-anchor="end">80</text>
<line x1="357.3" y1="600.67" x2="360.3" y2="600.67" stroke="#000" stroke-width="1.4"/>
<text x="357" y="603.97" font-size="6.5" font-weight="bold" text-anchor="end">100</text>
<line x1="357.3" y1="585.2" x2="360.3" y2="585.2" stroke="#000" stroke-width="1.4"/>
<text x="357" y="588.5" font-size="6.5" font-weight="bold" text-anchor="end">120</text>
<rect x="366.1" y="606.85" width="12.2" height="71.15" fill="#000"/>
<line x1="372.2" y1="606.85" x2="372.2" y2="602.99" stroke="#000" stroke-width="0.9"/>
<line x1="369.2" y1="602.99" x2="375.2" y2="602.99" stroke="#000" stroke-width="0.9"/>
<line x1="372.2" y1="678" x2="372.2" y2="681.8" stroke="#000" stroke-width="1.4"/>
<text x="372.2" y="688.6" font-size="6.2" font-weight="bold" text-anchor="middle">5</text>
<rect x="383.62" y="604.53" width="12.2" height="73.47" fill="#000"/>
<line x1="389.72" y1="604.53" x2="389.72" y2="603.76" stroke="#000" stroke-width="0.9"/>
<line x1="386.72" y1="603.76" x2="392.72" y2="603.76" stroke="#000" stroke-width="0.9"/>
<line x1="389.72" y1="678" x2="389.72" y2="681.8" stroke="#000" stroke-width="1.4"/>
<text x="389.72" y="688.6" font-size="6.2" font-weight="bold" text-anchor="middle">10</text>
<rect x="401.14" y="600.67" width="12.2" height="77.33" fill="#000"/>
<line x1="407.24" y1="600.67" x2="407.24" y2="599.89" stroke="#000" stroke-width="0.9"/>
<line x1="404.24" y1="599.89" x2="410.24" y2="599.89" stroke="#000" stroke-width="0.9"/>
<line x1="407.24" y1="678" x2="407.24" y2="681.8" stroke="#000" stroke-width="1.4"/>
<text x="407.24" y="688.6" font-size="6.2" font-weight="bold" text-anchor="middle">20</text>
<rect x="418.66" y="602.21" width="12.2" height="75.79" fill="#000"/>
<line x1="424.76" y1="602.21" x2="424.76" y2="599.12" stroke="#000" stroke-width="0.9"/>
<line x1="421.76" y1="599.12" x2="427.76" y2="599.12" stroke="#000" stroke-width="0.9"/>
<line x1="424.76" y1="678" x2="424.76" y2="681.8" stroke="#000" stroke-width="1.4"/>
<text x="424.76" y="688.6" font-size="6.2" font-weight="bold" text-anchor="middle">40</text>
<rect x="436.18" y="612.27" width="12.2" height="65.73" fill="#000"/>
<line x1="442.28" y1="612.27" x2="442.28" y2="610.72" stroke="#000" stroke-width="0.9"/>
<line x1="439.28" y1="610.72" x2="445.28" y2="610.72" stroke="#000" stroke-width="0.9"/>
<line x1="442.28" y1="678" x2="442.28" y2="681.8" stroke="#000" stroke-width="1.4"/>
<text x="442.28" y="688.6" font-size="6.2" font-weight="bold" text-anchor="middle">80</text>
<text x="452.4" y="689.5" font-size="7.2" font-weight="bold" textLength="45.5" lengthAdjust="spacingAndGlyphs">Spautin-1(μM)</text>
<text x="340.3" y="631.6" font-size="7" font-weight="bold" text-anchor="middle" transform="rotate(-90 340.3 631.6)" textLength="55.5" lengthAdjust="spacingAndGlyphs">Cell viability(%)</text>
<text x="5.6" y="728.4" font-size="16.5" fill="#231f20">I</text>
<rect x="49.6" y="750.23" width="4.7" height="46.57" fill="#2b2b2b"/>
<line x1="51.95" y1="743.21" x2="51.95" y2="757.24" stroke="#000" stroke-width="0.6"/>
<line x1="50.65" y1="743.21" x2="53.25" y2="743.21" stroke="#000" stroke-width="0.6"/>
<rect x="56.55" y="762.7" width="4" height="34.1" fill="#a9a9a9" stroke="#000" stroke-width="0.7"/>
<line x1="58.55" y1="760.43" x2="58.55" y2="764.26" stroke="#000" stroke-width="0.6"/>
<line x1="57.25" y1="760.43" x2="59.85" y2="760.43" stroke="#000" stroke-width="0.6"/>
<rect x="66.8" y="768.73" width="4.7" height="28.07" fill="#2b2b2b"/>
<line x1="69.15" y1="767.45" x2="69.15" y2="770" stroke="#000" stroke-width="0.6"/>
<line x1="67.85" y1="767.45" x2="70.45" y2="767.45" stroke="#000" stroke-width="0.6"/>
<rect x="73.75" y="778.01" width="4" height="18.79" fill="#a9a9a9" stroke="#000" stroke-width="0.7"/>
<line x1="75.75" y1="777.02" x2="75.75" y2="778.3" stroke="#000" stroke-width="0.6"/>
<line x1="74.45" y1="777.02" x2="77.05" y2="777.02" stroke="#000" stroke-width="0.6"/>
<rect x="84" y="778.94" width="4.7" height="17.86" fill="#2b2b2b"/>
<line x1="86.35" y1="775.75" x2="86.35" y2="782.13" stroke="#000" stroke-width="0.6"/>
<line x1="85.05" y1="775.75" x2="87.65" y2="775.75" stroke="#000" stroke-width="0.6"/>
<rect x="90.95" y="788.22" width="4" height="8.58" fill="#a9a9a9" stroke="#000" stroke-width="0.7"/>
<line x1="92.95" y1="785.32" x2="92.95" y2="790.42" stroke="#000" stroke-width="0.6"/>
<line x1="91.65" y1="785.32" x2="94.25" y2="785.32" stroke="#000" stroke-width="0.6"/>
<rect x="101.2" y="779.57" width="4.7" height="17.23" fill="#2b2b2b"/>
<line x1="103.55" y1="778.94" x2="103.55" y2="780.21" stroke="#000" stroke-width="0.6"/>
<line x1="102.25" y1="778.94" x2="104.85" y2="778.94" stroke="#000" stroke-width="0.6"/>
<rect x="108.15" y="786.94" width="4" height="9.86" fill="#a9a9a9" stroke="#000" stroke-width="0.7"/>
<line x1="110.15" y1="785.95" x2="110.15" y2="787.23" stroke="#000" stroke-width="0.6"/>
<line x1="108.85" y1="785.95" x2="111.45" y2="785.95" stroke="#000" stroke-width="0.6"/>
<rect x="118.4" y="778.94" width="4.7" height="17.86" fill="#2b2b2b"/>
<line x1="120.75" y1="777.02" x2="120.75" y2="780.85" stroke="#000" stroke-width="0.6"/>
<line x1="119.45" y1="777.02" x2="122.05" y2="777.02" stroke="#000" stroke-width="0.6"/>
<rect x="125.35" y="788.86" width="4" height="7.94" fill="#a9a9a9" stroke="#000" stroke-width="0.7"/>
<line x1="127.35" y1="787.23" x2="127.35" y2="789.78" stroke="#000" stroke-width="0.6"/>
<line x1="126.05" y1="787.23" x2="128.65" y2="787.23" stroke="#000" stroke-width="0.6"/>
<line x1="47.4" y1="732.5" x2="47.4" y2="797.65" stroke="#000" stroke-width="1.7"/>
<line x1="46.55" y1="797" x2="131.8" y2="797" stroke="#000" stroke-width="1.7"/>
<line x1="45" y1="796.8" x2="47.4" y2="796.8" stroke="#000" stroke-width="1.44"/>
<text x="44.4" y="798.35" font-size="4.3" font-weight="bold" text-anchor="end">0</text>
<line x1="45" y1="784.04" x2="47.4" y2="784.04" stroke="#000" stroke-width="1.44"/>
<text x="44.4" y="785.59" font-size="4.3" font-weight="bold" text-anchor="end">20</text>
<line x1="45" y1="771.28" x2="47.4" y2="771.28" stroke="#000" stroke-width="1.44"/>
<text x="44.4" y="772.83" font-size="4.3" font-weight="bold" text-anchor="end">40</text>
<line x1="45" y1="758.52" x2="47.4" y2="758.52" stroke="#000" stroke-width="1.44"/>
<text x="44.4" y="760.07" font-size="4.3" font-weight="bold" text-anchor="end">60</text>
<line x1="45" y1="745.76" x2="47.4" y2="745.76" stroke="#000" stroke-width="1.44"/>
<text x="44.4" y="747.31" font-size="4.3" font-weight="bold" text-anchor="end">80</text>
<line x1="45" y1="733" x2="47.4" y2="733" stroke="#000" stroke-width="1.44"/>
<text x="44.4" y="734.55" font-size="4.3" font-weight="bold" text-anchor="end">100</text>
<line x1="55.25" y1="796.8" x2="55.25" y2="799.2" stroke="#000" stroke-width="1.44"/>
<line x1="72.45" y1="796.8" x2="72.45" y2="799.2" stroke="#000" stroke-width="1.44"/>
<line x1="89.65" y1="796.8" x2="89.65" y2="799.2" stroke="#000" stroke-width="1.44"/>
<line x1="106.85" y1="796.8" x2="106.85" y2="799.2" stroke="#000" stroke-width="1.44"/>
<line x1="124.05" y1="796.8" x2="124.05" y2="799.2" stroke="#000" stroke-width="1.44"/>
<line x1="51.65" y1="735.9" x2="58.85" y2="735.9" stroke="#000" stroke-width="1.7"/>
<text x="55.59" y="735.73" font-size="6.6" font-weight="bold" text-anchor="middle" letter-spacing="0.68">***</text>
<line x1="68.85" y1="735.9" x2="76.05" y2="735.9" stroke="#000" stroke-width="1.7"/>
<text x="72.79" y="735.73" font-size="6.6" font-weight="bold" text-anchor="middle" letter-spacing="0.68">**</text>
<line x1="86.05" y1="735.9" x2="93.25" y2="735.9" stroke="#000" stroke-width="1.7"/>
<text x="89.99" y="735.73" font-size="6.6" font-weight="bold" text-anchor="middle" letter-spacing="0.68">**</text>
<line x1="103.25" y1="735.9" x2="110.45" y2="735.9" stroke="#000" stroke-width="1.7"/>
<text x="107.19" y="735.73" font-size="6.6" font-weight="bold" text-anchor="middle" letter-spacing="0.68">*</text>
<line x1="120.45" y1="735.9" x2="127.65" y2="735.9" stroke="#000" stroke-width="1.7"/>
<text x="124.39" y="735.73" font-size="6.6" font-weight="bold" text-anchor="middle" letter-spacing="0.68">**</text>
<rect x="139.6" y="735.9" width="6.8" height="2.9" fill="#2b2b2b"/>
<text x="148.6" y="738.8" font-size="4.6" textLength="8" lengthAdjust="spacingAndGlyphs">Dox</text>
<rect x="139.9" y="744.2" width="6.2" height="2.3" fill="#a9a9a9" stroke="#000" stroke-width="0.6"/>
<text x="148.6" y="746.8" font-size="4.6" textLength="28.5" lengthAdjust="spacingAndGlyphs">Dox+10 μM Sp</text>
<text x="35" y="765" font-size="5" font-weight="bold" text-anchor="middle" transform="rotate(-90 35 765)" textLength="38.6" lengthAdjust="spacingAndGlyphs">Cell viability(%)</text>
<text x="55.25" y="804.8" font-size="4.6" font-weight="bold" text-anchor="middle">0.125</text>
<text x="72.45" y="804.8" font-size="4.6" font-weight="bold" text-anchor="middle">0.25</text>
<text x="89.65" y="804.8" font-size="4.6" font-weight="bold" text-anchor="middle">0.5</text>
<text x="106.85" y="804.8" font-size="4.6" font-weight="bold" text-anchor="middle">1</text>
<text x="124.05" y="804.8" font-size="4.6" font-weight="bold" text-anchor="middle">2</text>
<text x="55.25" y="811.6" font-size="4.6" font-weight="bold" text-anchor="middle">0.79</text>
<text x="72.45" y="811.6" font-size="4.6" font-weight="bold" text-anchor="middle">0.25</text>
<text x="89.65" y="811.6" font-size="4.6" font-weight="bold" text-anchor="middle">0.13</text>
<text x="106.85" y="811.6" font-size="4.6" font-weight="bold" text-anchor="middle">0.31</text>
<text x="124.05" y="811.6" font-size="4.6" font-weight="bold" text-anchor="middle">0.44</text>
<text x="43.3" y="804.8" font-size="4.6" font-weight="bold" text-anchor="end" textLength="16.5" lengthAdjust="spacingAndGlyphs">Dex(μM)</text>
<text x="41.3" y="811.6" font-size="4.6" font-weight="bold" text-anchor="end" textLength="3.2" lengthAdjust="spacingAndGlyphs">CI</text>
<rect x="212.4" y="744.62" width="4.5" height="51.68" fill="#2b2b2b"/>
<line x1="214.65" y1="743.98" x2="214.65" y2="745.26" stroke="#000" stroke-width="0.6"/>
<line x1="213.35" y1="743.98" x2="215.95" y2="743.98" stroke="#000" stroke-width="0.6"/>
<rect x="219.25" y="760.28" width="3.8" height="36.02" fill="#a9a9a9" stroke="#000" stroke-width="0.7"/>
<line x1="221.15" y1="759.3" x2="221.15" y2="760.57" stroke="#000" stroke-width="0.6"/>
<line x1="219.85" y1="759.3" x2="222.45" y2="759.3" stroke="#000" stroke-width="0.6"/>
<rect x="230.15" y="750.36" width="4.5" height="45.94" fill="#2b2b2b"/>
<line x1="232.4" y1="749.73" x2="232.4" y2="751" stroke="#000" stroke-width="0.6"/>
<line x1="231.1" y1="749.73" x2="233.7" y2="749.73" stroke="#000" stroke-width="0.6"/>
<rect x="237" y="768.58" width="3.8" height="27.72" fill="#a9a9a9" stroke="#000" stroke-width="0.7"/>
<line x1="238.9" y1="766.95" x2="238.9" y2="769.5" stroke="#000" stroke-width="0.6"/>
<line x1="237.6" y1="766.95" x2="240.2" y2="766.95" stroke="#000" stroke-width="0.6"/>
<rect x="247.9" y="763.76" width="4.5" height="32.54" fill="#2b2b2b"/>
<line x1="250.15" y1="761.85" x2="250.15" y2="765.68" stroke="#000" stroke-width="0.6"/>
<line x1="248.85" y1="761.85" x2="251.45" y2="761.85" stroke="#000" stroke-width="0.6"/>
<rect x="254.75" y="776.87" width="3.8" height="19.43" fill="#a9a9a9" stroke="#000" stroke-width="0.7"/>
<line x1="256.65" y1="775.88" x2="256.65" y2="777.16" stroke="#000" stroke-width="0.6"/>
<line x1="255.35" y1="775.88" x2="257.95" y2="775.88" stroke="#000" stroke-width="0.6"/>
<rect x="265.65" y="772.06" width="4.5" height="24.24" fill="#2b2b2b"/>
<line x1="267.9" y1="771.42" x2="267.9" y2="772.69" stroke="#000" stroke-width="0.6"/>
<line x1="266.6" y1="771.42" x2="269.2" y2="771.42" stroke="#000" stroke-width="0.6"/>
<rect x="272.5" y="780.7" width="3.8" height="15.6" fill="#a9a9a9" stroke="#000" stroke-width="0.7"/>
<line x1="274.4" y1="779.71" x2="274.4" y2="780.99" stroke="#000" stroke-width="0.6"/>
<line x1="273.1" y1="779.71" x2="275.7" y2="779.71" stroke="#000" stroke-width="0.6"/>
<rect x="283.4" y="784.18" width="4.5" height="12.12" fill="#2b2b2b"/>
<line x1="285.65" y1="783.54" x2="285.65" y2="784.82" stroke="#000" stroke-width="0.6"/>
<line x1="284.35" y1="783.54" x2="286.95" y2="783.54" stroke="#000" stroke-width="0.6"/>
<rect x="290.25" y="788.36" width="3.8" height="7.94" fill="#a9a9a9" stroke="#000" stroke-width="0.7"/>
<line x1="292.15" y1="787.37" x2="292.15" y2="788.64" stroke="#000" stroke-width="0.6"/>
<line x1="290.85" y1="787.37" x2="293.45" y2="787.37" stroke="#000" stroke-width="0.6"/>
<line x1="210.4" y1="732" x2="210.4" y2="797.15" stroke="#000" stroke-width="1.7"/>
<line x1="209.55" y1="796.5" x2="296.4" y2="796.5" stroke="#000" stroke-width="1.7"/>
<line x1="208" y1="796.3" x2="210.4" y2="796.3" stroke="#000" stroke-width="1.44"/>
<text x="207.4" y="797.85" font-size="4.3" font-weight="bold" text-anchor="end">0</text>
<line x1="208" y1="783.54" x2="210.4" y2="783.54" stroke="#000" stroke-width="1.44"/>
<text x="207.4" y="785.09" font-size="4.3" font-weight="bold" text-anchor="end">20</text>
<line x1="208" y1="770.78" x2="210.4" y2="770.78" stroke="#000" stroke-width="1.44"/>
<text x="207.4" y="772.33" font-size="4.3" font-weight="bold" text-anchor="end">40</text>
<line x1="208" y1="758.02" x2="210.4" y2="758.02" stroke="#000" stroke-width="1.44"/>
<text x="207.4" y="759.57" font-size="4.3" font-weight="bold" text-anchor="end">60</text>
<line x1="208" y1="745.26" x2="210.4" y2="745.26" stroke="#000" stroke-width="1.44"/>
<text x="207.4" y="746.81" font-size="4.3" font-weight="bold" text-anchor="end">80</text>
<line x1="208" y1="732.5" x2="210.4" y2="732.5" stroke="#000" stroke-width="1.44"/>
<text x="207.4" y="734.05" font-size="4.3" font-weight="bold" text-anchor="end">100</text>
<line x1="217.9" y1="796.3" x2="217.9" y2="798.7" stroke="#000" stroke-width="1.44"/>
<line x1="235.65" y1="796.3" x2="235.65" y2="798.7" stroke="#000" stroke-width="1.44"/>
<line x1="253.4" y1="796.3" x2="253.4" y2="798.7" stroke="#000" stroke-width="1.44"/>
<line x1="271.15" y1="796.3" x2="271.15" y2="798.7" stroke="#000" stroke-width="1.44"/>
<line x1="288.9" y1="796.3" x2="288.9" y2="798.7" stroke="#000" stroke-width="1.44"/>
<line x1="214.3" y1="736.6" x2="221.5" y2="736.6" stroke="#000" stroke-width="1.7"/>
<text x="218.24" y="736.13" font-size="6.6" font-weight="bold" text-anchor="middle" letter-spacing="0.68">***</text>
<line x1="232.05" y1="736.6" x2="239.25" y2="736.6" stroke="#000" stroke-width="1.7"/>
<text x="235.99" y="736.13" font-size="6.6" font-weight="bold" text-anchor="middle" letter-spacing="0.68">***</text>
<line x1="249.8" y1="736.6" x2="257" y2="736.6" stroke="#000" stroke-width="1.7"/>
<text x="253.74" y="736.13" font-size="6.6" font-weight="bold" text-anchor="middle" letter-spacing="0.68">***</text>
<line x1="267.55" y1="736.6" x2="274.75" y2="736.6" stroke="#000" stroke-width="1.7"/>
<text x="271.49" y="736.13" font-size="6.6" font-weight="bold" text-anchor="middle" letter-spacing="0.68">***</text>
<line x1="285.3" y1="736.6" x2="292.5" y2="736.6" stroke="#000" stroke-width="1.7"/>
<text x="289.24" y="736.13" font-size="6.6" font-weight="bold" text-anchor="middle" letter-spacing="0.68">***</text>
<rect x="304.3" y="735.9" width="6.8" height="2.9" fill="#2b2b2b"/>
<text x="313.8" y="738.8" font-size="4.6" textLength="8" lengthAdjust="spacingAndGlyphs">Dox</text>
<rect x="304.6" y="744.2" width="6.2" height="2.3" fill="#a9a9a9" stroke="#000" stroke-width="0.6"/>
<text x="313.8" y="746.8" font-size="4.6" textLength="28.9" lengthAdjust="spacingAndGlyphs">Dox+10 μM Sp</text>
<text x="197.2" y="764.7" font-size="5" font-weight="bold" text-anchor="middle" transform="rotate(-90 197.2 764.7)" textLength="38" lengthAdjust="spacingAndGlyphs">Cell viability(%)</text>
<text x="217.9" y="804.5" font-size="4.6" font-weight="bold" text-anchor="middle">0.125</text>
<text x="235.65" y="804.5" font-size="4.6" font-weight="bold" text-anchor="middle">0.25</text>
<text x="253.4" y="804.5" font-size="4.6" font-weight="bold" text-anchor="middle">0.5</text>
<text x="271.15" y="804.5" font-size="4.6" font-weight="bold" text-anchor="middle">1</text>
<text x="288.9" y="804.5" font-size="4.6" font-weight="bold" text-anchor="middle">2</text>
<text x="217.9" y="811.6" font-size="4.6" font-weight="bold" text-anchor="middle">0.81</text>
<text x="235.65" y="811.6" font-size="4.6" font-weight="bold" text-anchor="middle">0.42</text>
<text x="253.4" y="811.6" font-size="4.6" font-weight="bold" text-anchor="middle">0.42</text>
<text x="271.15" y="811.6" font-size="4.6" font-weight="bold" text-anchor="middle">0.64</text>
<text x="288.9" y="811.6" font-size="4.6" font-weight="bold" text-anchor="middle">0.61</text>
<text x="209" y="804.5" font-size="4.6" font-weight="bold" text-anchor="end" textLength="17" lengthAdjust="spacingAndGlyphs">Dex(μM)</text>
<text x="206" y="811.6" font-size="4.6" font-weight="bold" text-anchor="end" textLength="3.2" lengthAdjust="spacingAndGlyphs">CI</text>
<text x="357.2" y="729" font-size="16.5" fill="#231f20">K</text>
<rect x="393.3" y="743.2" width="4.9" height="52.8" fill="#000"/>
<line x1="395.75" y1="738.58" x2="395.75" y2="747.82" stroke="#000" stroke-width="0.6"/>
<line x1="394.45" y1="738.58" x2="397.05" y2="738.58" stroke="#000" stroke-width="0.6"/>
<rect x="400.75" y="752.79" width="4.2" height="43.21" fill="#9a9a9a" stroke="#000" stroke-width="0.7"/>
<line x1="402.85" y1="749.14" x2="402.85" y2="755.74" stroke="#000" stroke-width="0.6"/>
<line x1="401.55" y1="749.14" x2="404.15" y2="749.14" stroke="#000" stroke-width="0.6"/>
<rect x="412.5" y="743.2" width="4.9" height="52.8" fill="#000"/>
<line x1="414.95" y1="739.9" x2="414.95" y2="746.5" stroke="#000" stroke-width="0.6"/>
<line x1="413.65" y1="739.9" x2="416.25" y2="739.9" stroke="#000" stroke-width="0.6"/>
<rect x="419.95" y="754.77" width="4.2" height="41.23" fill="#9a9a9a" stroke="#000" stroke-width="0.7"/>
<line x1="422.05" y1="749.14" x2="422.05" y2="759.7" stroke="#000" stroke-width="0.6"/>
<line x1="420.75" y1="749.14" x2="423.35" y2="749.14" stroke="#000" stroke-width="0.6"/>
<rect x="431.7" y="746.5" width="4.9" height="49.5" fill="#000"/>
<line x1="434.15" y1="744.52" x2="434.15" y2="748.48" stroke="#000" stroke-width="0.6"/>
<line x1="432.85" y1="744.52" x2="435.45" y2="744.52" stroke="#000" stroke-width="0.6"/>
<rect x="439.15" y="758.07" width="4.2" height="37.93" fill="#9a9a9a" stroke="#000" stroke-width="0.7"/>
<line x1="441.25" y1="755.74" x2="441.25" y2="759.7" stroke="#000" stroke-width="0.6"/>
<line x1="439.95" y1="755.74" x2="442.55" y2="755.74" stroke="#000" stroke-width="0.6"/>
<rect x="450.9" y="749.14" width="4.9" height="46.86" fill="#000"/>
<line x1="453.35" y1="745.84" x2="453.35" y2="752.44" stroke="#000" stroke-width="0.6"/>
<line x1="452.05" y1="745.84" x2="454.65" y2="745.84" stroke="#000" stroke-width="0.6"/>
<rect x="458.35" y="761.37" width="4.2" height="34.63" fill="#9a9a9a" stroke="#000" stroke-width="0.7"/>
<line x1="460.45" y1="759.7" x2="460.45" y2="762.34" stroke="#000" stroke-width="0.6"/>
<line x1="459.15" y1="759.7" x2="461.75" y2="759.7" stroke="#000" stroke-width="0.6"/>
<rect x="470.1" y="760.36" width="4.9" height="35.64" fill="#000"/>
<line x1="472.55" y1="756.4" x2="472.55" y2="764.32" stroke="#000" stroke-width="0.6"/>
<line x1="471.25" y1="756.4" x2="473.85" y2="756.4" stroke="#000" stroke-width="0.6"/>
<rect x="477.55" y="780.51" width="4.2" height="15.49" fill="#9a9a9a" stroke="#000" stroke-width="0.7"/>
<line x1="479.65" y1="777.52" x2="479.65" y2="782.8" stroke="#000" stroke-width="0.6"/>
<line x1="478.35" y1="777.52" x2="480.95" y2="777.52" stroke="#000" stroke-width="0.6"/>
<line x1="391.1" y1="729.5" x2="391.1" y2="796.85" stroke="#000" stroke-width="1.7"/>
<line x1="390.25" y1="796.2" x2="485" y2="796.2" stroke="#000" stroke-width="1.7"/>
<line x1="388.7" y1="796" x2="391.1" y2="796" stroke="#000" stroke-width="1.44"/>
<text x="388.1" y="797.55" font-size="4.3" font-weight="bold" text-anchor="end">0</text>
<line x1="388.7" y1="782.8" x2="391.1" y2="782.8" stroke="#000" stroke-width="1.44"/>
<text x="388.1" y="784.35" font-size="4.3" font-weight="bold" text-anchor="end">20</text>
<line x1="388.7" y1="769.6" x2="391.1" y2="769.6" stroke="#000" stroke-width="1.44"/>
<text x="388.1" y="771.15" font-size="4.3" font-weight="bold" text-anchor="end">40</text>
<line x1="388.7" y1="756.4" x2="391.1" y2="756.4" stroke="#000" stroke-width="1.44"/>
<text x="388.1" y="757.95" font-size="4.3" font-weight="bold" text-anchor="end">60</text>
<line x1="388.7" y1="743.2" x2="391.1" y2="743.2" stroke="#000" stroke-width="1.44"/>
<text x="388.1" y="744.75" font-size="4.3" font-weight="bold" text-anchor="end">80</text>
<line x1="388.7" y1="730" x2="391.1" y2="730" stroke="#000" stroke-width="1.44"/>
<text x="388.1" y="731.55" font-size="4.3" font-weight="bold" text-anchor="end">100</text>
<line x1="399.3" y1="796" x2="399.3" y2="798.4" stroke="#000" stroke-width="1.44"/>
<line x1="418.5" y1="796" x2="418.5" y2="798.4" stroke="#000" stroke-width="1.44"/>
<line x1="437.7" y1="796" x2="437.7" y2="798.4" stroke="#000" stroke-width="1.44"/>
<line x1="456.9" y1="796" x2="456.9" y2="798.4" stroke="#000" stroke-width="1.44"/>
<line x1="476.1" y1="796" x2="476.1" y2="798.4" stroke="#000" stroke-width="1.44"/>
<line x1="395.7" y1="731" x2="402.9" y2="731" stroke="#000" stroke-width="1.7"/>
<text x="399.69" y="730.67" font-size="7.4" font-weight="bold" text-anchor="middle" letter-spacing="0.77">*</text>
<line x1="414.9" y1="731" x2="422.1" y2="731" stroke="#000" stroke-width="1.7"/>
<text x="418.89" y="730.67" font-size="7.4" font-weight="bold" text-anchor="middle" letter-spacing="0.77">**</text>
<line x1="434.1" y1="731" x2="441.3" y2="731" stroke="#000" stroke-width="1.7"/>
<text x="438.09" y="730.67" font-size="7.4" font-weight="bold" text-anchor="middle" letter-spacing="0.77">**</text>
<line x1="453.3" y1="731" x2="460.5" y2="731" stroke="#000" stroke-width="1.7"/>
<text x="457.29" y="730.67" font-size="7.4" font-weight="bold" text-anchor="middle" letter-spacing="0.77">**</text>
<line x1="472.5" y1="731" x2="479.7" y2="731" stroke="#000" stroke-width="1.7"/>
<text x="476.49" y="730.67" font-size="7.4" font-weight="bold" text-anchor="middle" letter-spacing="0.77">***</text>
<rect x="490.4" y="733.2" width="6.8" height="2.9" fill="#000"/>
<text x="500.3" y="736.1" font-size="4.6" textLength="7.3" lengthAdjust="spacingAndGlyphs">NC</text>
<rect x="490.7" y="741.6" width="6.2" height="2.3" fill="#9a9a9a" stroke="#000" stroke-width="0.6"/>
<text x="500.3" y="744.2" font-size="4.6" textLength="19.5" lengthAdjust="spacingAndGlyphs">shUSP13</text>
<text x="375.8" y="763.2" font-size="5" font-weight="bold" text-anchor="middle" transform="rotate(-90 375.8 763.2)" textLength="39.4" lengthAdjust="spacingAndGlyphs">Cell viability(%)</text>
<text x="399.3" y="804.3" font-size="4.6" font-weight="bold" text-anchor="middle">0.125</text>
<text x="418.5" y="804.3" font-size="4.6" font-weight="bold" text-anchor="middle">0.25</text>
<text x="437.7" y="804.3" font-size="4.6" font-weight="bold" text-anchor="middle">0.5</text>
<text x="456.9" y="804.3" font-size="4.6" font-weight="bold" text-anchor="middle">1</text>
<text x="476.1" y="804.3" font-size="4.6" font-weight="bold" text-anchor="middle">2</text>
<text x="482.8" y="804.3" font-size="4.8" font-weight="bold" textLength="18" lengthAdjust="spacingAndGlyphs">Dox(μM)</text>
<rect x="554.8" y="738.47" width="5.1" height="58.33" fill="#000"/>
<line x1="557.35" y1="736.63" x2="557.35" y2="740.31" stroke="#000" stroke-width="0.6"/>
<line x1="556.05" y1="736.63" x2="558.65" y2="736.63" stroke="#000" stroke-width="0.6"/>
<rect x="562.15" y="749.26" width="4.4" height="47.54" fill="#9a9a9a" stroke="#000" stroke-width="0.7"/>
<line x1="564.35" y1="742.15" x2="564.35" y2="755.66" stroke="#000" stroke-width="0.6"/>
<line x1="563.05" y1="742.15" x2="565.65" y2="742.15" stroke="#000" stroke-width="0.6"/>
<rect x="573.2" y="744.61" width="5.1" height="52.19" fill="#000"/>
<line x1="575.75" y1="744.3" x2="575.75" y2="744.92" stroke="#000" stroke-width="0.6"/>
<line x1="574.45" y1="744.3" x2="577.05" y2="744.3" stroke="#000" stroke-width="0.6"/>
<rect x="580.55" y="761.54" width="4.4" height="35.26" fill="#9a9a9a" stroke="#000" stroke-width="0.7"/>
<line x1="582.75" y1="753.21" x2="582.75" y2="769.17" stroke="#000" stroke-width="0.6"/>
<line x1="581.45" y1="753.21" x2="584.05" y2="753.21" stroke="#000" stroke-width="0.6"/>
<rect x="591.6" y="744.61" width="5.1" height="52.19" fill="#000"/>
<line x1="594.15" y1="743.38" x2="594.15" y2="745.84" stroke="#000" stroke-width="0.6"/>
<line x1="592.85" y1="743.38" x2="595.45" y2="743.38" stroke="#000" stroke-width="0.6"/>
<rect x="598.95" y="770.75" width="4.4" height="26.05" fill="#9a9a9a" stroke="#000" stroke-width="0.7"/>
<line x1="601.15" y1="767.33" x2="601.15" y2="773.47" stroke="#000" stroke-width="0.6"/>
<line x1="599.85" y1="767.33" x2="602.45" y2="767.33" stroke="#000" stroke-width="0.6"/>
<rect x="610" y="746.45" width="5.1" height="50.35" fill="#000"/>
<line x1="612.55" y1="742.15" x2="612.55" y2="750.75" stroke="#000" stroke-width="0.6"/>
<line x1="611.25" y1="742.15" x2="613.85" y2="742.15" stroke="#000" stroke-width="0.6"/>
<rect x="617.35" y="770.75" width="4.4" height="26.05" fill="#9a9a9a" stroke="#000" stroke-width="0.7"/>
<line x1="619.55" y1="766.1" x2="619.55" y2="774.7" stroke="#000" stroke-width="0.6"/>
<line x1="618.25" y1="766.1" x2="620.85" y2="766.1" stroke="#000" stroke-width="0.6"/>
<rect x="628.4" y="756.28" width="5.1" height="40.52" fill="#000"/>
<line x1="630.95" y1="755.97" x2="630.95" y2="756.58" stroke="#000" stroke-width="0.6"/>
<line x1="629.65" y1="755.97" x2="632.25" y2="755.97" stroke="#000" stroke-width="0.6"/>
<rect x="635.75" y="768.91" width="4.4" height="27.89" fill="#9a9a9a" stroke="#000" stroke-width="0.7"/>
<line x1="637.95" y1="764.26" x2="637.95" y2="772.85" stroke="#000" stroke-width="0.6"/>
<line x1="636.65" y1="764.26" x2="639.25" y2="764.26" stroke="#000" stroke-width="0.6"/>
<line x1="552.6" y1="734.9" x2="552.6" y2="797.65" stroke="#000" stroke-width="1.7"/>
<line x1="551.75" y1="797" x2="642.8" y2="797" stroke="#000" stroke-width="1.7"/>
<line x1="550.2" y1="796.8" x2="552.6" y2="796.8" stroke="#000" stroke-width="1.44"/>
<text x="549.6" y="798.35" font-size="4.3" font-weight="bold" text-anchor="end">0</text>
<line x1="550.2" y1="784.52" x2="552.6" y2="784.52" stroke="#000" stroke-width="1.44"/>
<text x="549.6" y="786.07" font-size="4.3" font-weight="bold" text-anchor="end">20</text>
<line x1="550.2" y1="772.24" x2="552.6" y2="772.24" stroke="#000" stroke-width="1.44"/>
<text x="549.6" y="773.79" font-size="4.3" font-weight="bold" text-anchor="end">40</text>
<line x1="550.2" y1="759.96" x2="552.6" y2="759.96" stroke="#000" stroke-width="1.44"/>
<text x="549.6" y="761.51" font-size="4.3" font-weight="bold" text-anchor="end">60</text>
<line x1="550.2" y1="747.68" x2="552.6" y2="747.68" stroke="#000" stroke-width="1.44"/>
<text x="549.6" y="749.23" font-size="4.3" font-weight="bold" text-anchor="end">80</text>
<line x1="550.2" y1="735.4" x2="552.6" y2="735.4" stroke="#000" stroke-width="1.44"/>
<text x="549.6" y="736.95" font-size="4.3" font-weight="bold" text-anchor="end">100</text>
<line x1="560.85" y1="796.8" x2="560.85" y2="799.2" stroke="#000" stroke-width="1.44"/>
<line x1="579.25" y1="796.8" x2="579.25" y2="799.2" stroke="#000" stroke-width="1.44"/>
<line x1="597.65" y1="796.8" x2="597.65" y2="799.2" stroke="#000" stroke-width="1.44"/>
<line x1="616.05" y1="796.8" x2="616.05" y2="799.2" stroke="#000" stroke-width="1.44"/>
<line x1="634.45" y1="796.8" x2="634.45" y2="799.2" stroke="#000" stroke-width="1.44"/>
<line x1="557.25" y1="729.2" x2="564.45" y2="729.2" stroke="#000" stroke-width="1.7"/>
<text x="561.24" y="729.27" font-size="7.4" font-weight="bold" text-anchor="middle" letter-spacing="0.77">*</text>
<line x1="575.65" y1="729.2" x2="582.85" y2="729.2" stroke="#000" stroke-width="1.7"/>
<text x="579.64" y="729.27" font-size="7.4" font-weight="bold" text-anchor="middle" letter-spacing="0.77">**</text>
<line x1="594.05" y1="729.2" x2="601.25" y2="729.2" stroke="#000" stroke-width="1.7"/>
<text x="598.04" y="729.27" font-size="7.4" font-weight="bold" text-anchor="middle" letter-spacing="0.77">***</text>
<line x1="612.45" y1="729.2" x2="619.65" y2="729.2" stroke="#000" stroke-width="1.7"/>
<text x="616.44" y="729.27" font-size="7.4" font-weight="bold" text-anchor="middle" letter-spacing="0.77">***</text>
<line x1="630.85" y1="729.2" x2="638.05" y2="729.2" stroke="#000" stroke-width="1.7"/>
<text x="634.84" y="729.27" font-size="7.4" font-weight="bold" text-anchor="middle" letter-spacing="0.77">**</text>
<rect x="655.6" y="738" width="6.8" height="2.9" fill="#000"/>
<text x="665.8" y="740.9" font-size="4.6" textLength="7.3" lengthAdjust="spacingAndGlyphs">NC</text>
<rect x="655.9" y="746.1" width="6.2" height="2.3" fill="#9a9a9a" stroke="#000" stroke-width="0.6"/>
<text x="665.8" y="748.7" font-size="4.6" textLength="19.5" lengthAdjust="spacingAndGlyphs">shUSP13</text>
<text x="539.9" y="766" font-size="5" font-weight="bold" text-anchor="middle" transform="rotate(-90 539.9 766)" textLength="36.5" lengthAdjust="spacingAndGlyphs">Cell viability(%)</text>
<text x="560.85" y="804.8" font-size="4.6" font-weight="bold" text-anchor="middle">0.125</text>
<text x="579.25" y="804.8" font-size="4.6" font-weight="bold" text-anchor="middle">0.25</text>
<text x="597.65" y="804.8" font-size="4.6" font-weight="bold" text-anchor="middle">0.5</text>
<text x="616.05" y="804.8" font-size="4.6" font-weight="bold" text-anchor="middle">1</text>
<text x="634.45" y="804.8" font-size="4.6" font-weight="bold" text-anchor="middle">2</text>
<text x="640" y="804.6" font-size="4.8" font-weight="bold" textLength="18" lengthAdjust="spacingAndGlyphs">Dox(μM)</text>
<text x="0.6" y="854.2" font-size="16.5" fill="#231f20">J</text>
<rect x="48.2" y="875.52" width="4.5" height="50.88" fill="#2b2b2b"/>
<line x1="50.45" y1="874.29" x2="50.45" y2="876.75" stroke="#000" stroke-width="0.6"/>
<line x1="49.15" y1="874.29" x2="51.75" y2="874.29" stroke="#000" stroke-width="0.6"/>
<rect x="54.95" y="890.58" width="3.8" height="35.82" fill="#8a8a8a" stroke="#000" stroke-width="0.7"/>
<line x1="56.85" y1="887.78" x2="56.85" y2="892.68" stroke="#000" stroke-width="0.6"/>
<line x1="55.55" y1="887.78" x2="58.15" y2="887.78" stroke="#000" stroke-width="0.6"/>
<rect x="65.65" y="879.2" width="4.5" height="47.2" fill="#2b2b2b"/>
<line x1="67.9" y1="877.36" x2="67.9" y2="881.04" stroke="#000" stroke-width="0.6"/>
<line x1="66.6" y1="877.36" x2="69.2" y2="877.36" stroke="#000" stroke-width="0.6"/>
<rect x="72.4" y="893.65" width="3.8" height="32.75" fill="#8a8a8a" stroke="#000" stroke-width="0.7"/>
<line x1="74.3" y1="892.68" x2="74.3" y2="893.91" stroke="#000" stroke-width="0.6"/>
<line x1="73" y1="892.68" x2="75.6" y2="892.68" stroke="#000" stroke-width="0.6"/>
<rect x="83.1" y="883.49" width="4.5" height="42.91" fill="#2b2b2b"/>
<line x1="85.35" y1="882.57" x2="85.35" y2="884.41" stroke="#000" stroke-width="0.6"/>
<line x1="84.05" y1="882.57" x2="86.65" y2="882.57" stroke="#000" stroke-width="0.6"/>
<rect x="89.85" y="894.26" width="3.8" height="32.14" fill="#8a8a8a" stroke="#000" stroke-width="0.7"/>
<line x1="91.75" y1="892.69" x2="91.75" y2="895.14" stroke="#000" stroke-width="0.6"/>
<line x1="90.45" y1="892.69" x2="93.05" y2="892.69" stroke="#000" stroke-width="0.6"/>
<rect x="100.55" y="887.17" width="4.5" height="39.23" fill="#2b2b2b"/>
<line x1="102.8" y1="885.33" x2="102.8" y2="889.01" stroke="#000" stroke-width="0.6"/>
<line x1="101.5" y1="885.33" x2="104.1" y2="885.33" stroke="#000" stroke-width="0.6"/>
<rect x="107.3" y="896.1" width="3.8" height="30.3" fill="#8a8a8a" stroke="#000" stroke-width="0.7"/>
<line x1="109.2" y1="895.14" x2="109.2" y2="896.36" stroke="#000" stroke-width="0.6"/>
<line x1="107.9" y1="895.14" x2="110.5" y2="895.14" stroke="#000" stroke-width="0.6"/>
<rect x="118" y="895.14" width="4.5" height="31.26" fill="#2b2b2b"/>
<line x1="120.25" y1="894.52" x2="120.25" y2="895.75" stroke="#000" stroke-width="0.6"/>
<line x1="118.95" y1="894.52" x2="121.55" y2="894.52" stroke="#000" stroke-width="0.6"/>
<rect x="124.75" y="903.46" width="3.8" height="22.94" fill="#8a8a8a" stroke="#000" stroke-width="0.7"/>
<line x1="126.65" y1="901.88" x2="126.65" y2="904.33" stroke="#000" stroke-width="0.6"/>
<line x1="125.35" y1="901.88" x2="127.95" y2="901.88" stroke="#000" stroke-width="0.6"/>
<line x1="45.5" y1="864.6" x2="45.5" y2="927.25" stroke="#000" stroke-width="1.7"/>
<line x1="44.65" y1="926.6" x2="131.4" y2="926.6" stroke="#000" stroke-width="1.7"/>
<line x1="43.1" y1="926.4" x2="45.5" y2="926.4" stroke="#000" stroke-width="1.44"/>
<text x="42.5" y="927.95" font-size="4.3" font-weight="bold" text-anchor="end">0</text>
<line x1="43.1" y1="914.14" x2="45.5" y2="914.14" stroke="#000" stroke-width="1.44"/>
<text x="42.5" y="915.69" font-size="4.3" font-weight="bold" text-anchor="end">20</text>
<line x1="43.1" y1="901.88" x2="45.5" y2="901.88" stroke="#000" stroke-width="1.44"/>
<text x="42.5" y="903.43" font-size="4.3" font-weight="bold" text-anchor="end">40</text>
<line x1="43.1" y1="889.62" x2="45.5" y2="889.62" stroke="#000" stroke-width="1.44"/>
<text x="42.5" y="891.17" font-size="4.3" font-weight="bold" text-anchor="end">60</text>
<line x1="43.1" y1="877.36" x2="45.5" y2="877.36" stroke="#000" stroke-width="1.44"/>
<text x="42.5" y="878.91" font-size="4.3" font-weight="bold" text-anchor="end">80</text>
<line x1="43.1" y1="865.1" x2="45.5" y2="865.1" stroke="#000" stroke-width="1.44"/>
<text x="42.5" y="866.65" font-size="4.3" font-weight="bold" text-anchor="end">100</text>
<line x1="53.65" y1="926.4" x2="53.65" y2="928.8" stroke="#000" stroke-width="1.44"/>
<line x1="71.1" y1="926.4" x2="71.1" y2="928.8" stroke="#000" stroke-width="1.44"/>
<line x1="88.55" y1="926.4" x2="88.55" y2="928.8" stroke="#000" stroke-width="1.44"/>
<line x1="106" y1="926.4" x2="106" y2="928.8" stroke="#000" stroke-width="1.44"/>
<line x1="123.45" y1="926.4" x2="123.45" y2="928.8" stroke="#000" stroke-width="1.44"/>
<line x1="50.05" y1="866.7" x2="57.25" y2="866.7" stroke="#000" stroke-width="1.7"/>
<text x="53.99" y="866.23" font-size="6.6" font-weight="bold" text-anchor="middle" letter-spacing="0.68">***</text>
<line x1="67.5" y1="866.7" x2="74.7" y2="866.7" stroke="#000" stroke-width="1.7"/>
<text x="71.44" y="866.23" font-size="6.6" font-weight="bold" text-anchor="middle" letter-spacing="0.68">***</text>
<line x1="84.95" y1="866.7" x2="92.15" y2="866.7" stroke="#000" stroke-width="1.7"/>
<text x="88.89" y="866.23" font-size="6.6" font-weight="bold" text-anchor="middle" letter-spacing="0.68">***</text>
<line x1="102.4" y1="866.7" x2="109.6" y2="866.7" stroke="#000" stroke-width="1.7"/>
<text x="106.34" y="866.23" font-size="6.6" font-weight="bold" text-anchor="middle" letter-spacing="0.68">***</text>
<line x1="119.85" y1="866.7" x2="127.05" y2="866.7" stroke="#000" stroke-width="1.7"/>
<text x="123.79" y="866.23" font-size="6.6" font-weight="bold" text-anchor="middle" letter-spacing="0.68">***</text>
<rect x="139.1" y="867.7" width="6.8" height="2.9" fill="#2b2b2b"/>
<text x="148.9" y="870.6" font-size="4.6" textLength="8.1" lengthAdjust="spacingAndGlyphs">CTX</text>
<rect x="139.4" y="875.8" width="6.2" height="2.3" fill="#8a8a8a" stroke="#000" stroke-width="0.6"/>
<text x="148.9" y="878.4" font-size="4.6" textLength="29.2" lengthAdjust="spacingAndGlyphs">CTX+10 μM Sp</text>
<text x="32.4" y="896.3" font-size="5" font-weight="bold" text-anchor="middle" transform="rotate(-90 32.4 896.3)" textLength="36.5" lengthAdjust="spacingAndGlyphs">Cell viability(%)</text>
<text x="53.65" y="934.2" font-size="4.6" font-weight="bold" text-anchor="middle">5</text>
<text x="71.1" y="934.2" font-size="4.6" font-weight="bold" text-anchor="middle">10</text>
<text x="88.55" y="934.2" font-size="4.6" font-weight="bold" text-anchor="middle">20</text>
<text x="106" y="934.2" font-size="4.6" font-weight="bold" text-anchor="middle">40</text>
<text x="123.45" y="934.2" font-size="4.6" font-weight="bold" text-anchor="middle">80</text>
<text x="53.65" y="941.3" font-size="4.6" font-weight="bold" text-anchor="middle">0.21</text>
<text x="71.1" y="941.3" font-size="4.6" font-weight="bold" text-anchor="middle">0.13</text>
<text x="88.55" y="941.3" font-size="4.6" font-weight="bold" text-anchor="middle">0.26</text>
<text x="106" y="941.3" font-size="4.6" font-weight="bold" text-anchor="middle">0.40</text>
<text x="123.45" y="941.3" font-size="4.6" font-weight="bold" text-anchor="middle">0.32</text>
<text x="46.7" y="934.2" font-size="4.6" font-weight="bold" text-anchor="end" textLength="16.7" lengthAdjust="spacingAndGlyphs">CTX(μM)</text>
<text x="44" y="941.3" font-size="4.6" font-weight="bold" text-anchor="end" textLength="3.2" lengthAdjust="spacingAndGlyphs">CI</text>
<rect x="212.4" y="876.32" width="4.5" height="51.98" fill="#2b2b2b"/>
<line x1="214.65" y1="873.4" x2="214.65" y2="879.24" stroke="#000" stroke-width="0.6"/>
<line x1="213.35" y1="873.4" x2="215.95" y2="873.4" stroke="#000" stroke-width="0.6"/>
<rect x="219.25" y="893.61" width="3.8" height="34.69" fill="#a9a9a9" stroke="#000" stroke-width="0.7"/>
<line x1="221.15" y1="892.68" x2="221.15" y2="893.84" stroke="#000" stroke-width="0.6"/>
<line x1="219.85" y1="892.68" x2="222.45" y2="892.68" stroke="#000" stroke-width="0.6"/>
<rect x="230.1" y="874.57" width="4.5" height="53.73" fill="#2b2b2b"/>
<line x1="232.35" y1="871.65" x2="232.35" y2="877.49" stroke="#000" stroke-width="0.6"/>
<line x1="231.05" y1="871.65" x2="233.65" y2="871.65" stroke="#000" stroke-width="0.6"/>
<rect x="236.95" y="897.11" width="3.8" height="31.19" fill="#a9a9a9" stroke="#000" stroke-width="0.7"/>
<line x1="238.85" y1="896.18" x2="238.85" y2="897.35" stroke="#000" stroke-width="0.6"/>
<line x1="237.55" y1="896.18" x2="240.15" y2="896.18" stroke="#000" stroke-width="0.6"/>
<rect x="247.8" y="878.66" width="4.5" height="49.64" fill="#2b2b2b"/>
<line x1="250.05" y1="873.4" x2="250.05" y2="883.92" stroke="#000" stroke-width="0.6"/>
<line x1="248.75" y1="873.4" x2="251.35" y2="873.4" stroke="#000" stroke-width="0.6"/>
<rect x="254.65" y="897.7" width="3.8" height="30.6" fill="#a9a9a9" stroke="#000" stroke-width="0.7"/>
<line x1="256.55" y1="896.76" x2="256.55" y2="897.93" stroke="#000" stroke-width="0.6"/>
<line x1="255.25" y1="896.76" x2="257.85" y2="896.76" stroke="#000" stroke-width="0.6"/>
<rect x="265.5" y="883.92" width="4.5" height="44.38" fill="#2b2b2b"/>
<line x1="267.75" y1="883.74" x2="267.75" y2="884.09" stroke="#000" stroke-width="0.6"/>
<line x1="266.45" y1="883.74" x2="269.05" y2="883.74" stroke="#000" stroke-width="0.6"/>
<rect x="272.35" y="902.95" width="3.8" height="25.35" fill="#a9a9a9" stroke="#000" stroke-width="0.7"/>
<line x1="274.25" y1="900.27" x2="274.25" y2="904.94" stroke="#000" stroke-width="0.6"/>
<line x1="272.95" y1="900.27" x2="275.55" y2="900.27" stroke="#000" stroke-width="0.6"/>
<rect x="283.2" y="889.17" width="4.5" height="39.13" fill="#2b2b2b"/>
<line x1="285.45" y1="886.84" x2="285.45" y2="891.51" stroke="#000" stroke-width="0.6"/>
<line x1="284.15" y1="886.84" x2="286.75" y2="886.84" stroke="#000" stroke-width="0.6"/>
<rect x="290.05" y="902.37" width="3.8" height="25.93" fill="#a9a9a9" stroke="#000" stroke-width="0.7"/>
<line x1="291.95" y1="900.85" x2="291.95" y2="903.19" stroke="#000" stroke-width="0.6"/>
<line x1="290.65" y1="900.85" x2="293.25" y2="900.85" stroke="#000" stroke-width="0.6"/>
<line x1="210.4" y1="869.4" x2="210.4" y2="929.15" stroke="#000" stroke-width="1.7"/>
<line x1="209.55" y1="928.5" x2="296.4" y2="928.5" stroke="#000" stroke-width="1.7"/>
<line x1="208" y1="928.3" x2="210.4" y2="928.3" stroke="#000" stroke-width="1.44"/>
<text x="207.4" y="929.85" font-size="4.3" font-weight="bold" text-anchor="end">0</text>
<line x1="208" y1="916.62" x2="210.4" y2="916.62" stroke="#000" stroke-width="1.44"/>
<text x="207.4" y="918.17" font-size="4.3" font-weight="bold" text-anchor="end">20</text>
<line x1="208" y1="904.94" x2="210.4" y2="904.94" stroke="#000" stroke-width="1.44"/>
<text x="207.4" y="906.49" font-size="4.3" font-weight="bold" text-anchor="end">40</text>
<line x1="208" y1="893.26" x2="210.4" y2="893.26" stroke="#000" stroke-width="1.44"/>
<text x="207.4" y="894.81" font-size="4.3" font-weight="bold" text-anchor="end">60</text>
<line x1="208" y1="881.58" x2="210.4" y2="881.58" stroke="#000" stroke-width="1.44"/>
<text x="207.4" y="883.13" font-size="4.3" font-weight="bold" text-anchor="end">80</text>
<line x1="208" y1="869.9" x2="210.4" y2="869.9" stroke="#000" stroke-width="1.44"/>
<text x="207.4" y="871.45" font-size="4.3" font-weight="bold" text-anchor="end">100</text>
<line x1="217.9" y1="928.3" x2="217.9" y2="930.7" stroke="#000" stroke-width="1.44"/>
<line x1="235.6" y1="928.3" x2="235.6" y2="930.7" stroke="#000" stroke-width="1.44"/>
<line x1="253.3" y1="928.3" x2="253.3" y2="930.7" stroke="#000" stroke-width="1.44"/>
<line x1="271" y1="928.3" x2="271" y2="930.7" stroke="#000" stroke-width="1.44"/>
<line x1="288.7" y1="928.3" x2="288.7" y2="930.7" stroke="#000" stroke-width="1.44"/>
<line x1="214.3" y1="863.4" x2="221.5" y2="863.4" stroke="#000" stroke-width="1.7"/>
<text x="218.24" y="863.33" font-size="6.6" font-weight="bold" text-anchor="middle" letter-spacing="0.68">***</text>
<line x1="232" y1="863.4" x2="239.2" y2="863.4" stroke="#000" stroke-width="1.7"/>
<text x="235.94" y="863.33" font-size="6.6" font-weight="bold" text-anchor="middle" letter-spacing="0.68">***</text>
<line x1="249.7" y1="863.4" x2="256.9" y2="863.4" stroke="#000" stroke-width="1.7"/>
<text x="253.64" y="863.33" font-size="6.6" font-weight="bold" text-anchor="middle" letter-spacing="0.68">***</text>
<line x1="267.4" y1="863.4" x2="274.6" y2="863.4" stroke="#000" stroke-width="1.7"/>
<text x="271.34" y="863.33" font-size="6.6" font-weight="bold" text-anchor="middle" letter-spacing="0.68">***</text>
<line x1="285.1" y1="863.4" x2="292.3" y2="863.4" stroke="#000" stroke-width="1.7"/>
<text x="289.04" y="863.33" font-size="6.6" font-weight="bold" text-anchor="middle" letter-spacing="0.68">***</text>
<rect x="304.3" y="872.8" width="6.8" height="2.9" fill="#2b2b2b"/>
<text x="313.8" y="875.7" font-size="4.6" textLength="8.1" lengthAdjust="spacingAndGlyphs">CTX</text>
<rect x="304.6" y="880.2" width="6.2" height="2.3" fill="#a9a9a9" stroke="#000" stroke-width="0.6"/>
<text x="313.8" y="882.8" font-size="4.6" textLength="29.6" lengthAdjust="spacingAndGlyphs">CTX+10 μM Sp</text>
<text x="197.8" y="899.1" font-size="5" font-weight="bold" text-anchor="middle" transform="rotate(-90 197.8 899.1)" textLength="35" lengthAdjust="spacingAndGlyphs">Cell viability(%)</text>
<text x="217.9" y="935.2" font-size="4.6" font-weight="bold" text-anchor="middle">5</text>
<text x="235.6" y="935.2" font-size="4.6" font-weight="bold" text-anchor="middle">10</text>
<text x="253.3" y="935.2" font-size="4.6" font-weight="bold" text-anchor="middle">20</text>
<text x="271" y="935.2" font-size="4.6" font-weight="bold" text-anchor="middle">40</text>
<text x="288.7" y="935.2" font-size="4.6" font-weight="bold" text-anchor="middle">80</text>
<text x="217.9" y="941.3" font-size="4.6" font-weight="bold" text-anchor="middle">0.31</text>
<text x="235.6" y="941.3" font-size="4.6" font-weight="bold" text-anchor="middle">0.11</text>
<text x="253.3" y="941.3" font-size="4.6" font-weight="bold" text-anchor="middle">0.13</text>
<text x="271" y="941.3" font-size="4.6" font-weight="bold" text-anchor="middle">0.09</text>
<text x="288.7" y="941.3" font-size="4.6" font-weight="bold" text-anchor="middle">0.18</text>
<text x="209" y="935.2" font-size="4.6" font-weight="bold" text-anchor="end" textLength="17.2" lengthAdjust="spacingAndGlyphs">CTX(μM)</text>
<text x="206" y="941.3" font-size="4.6" font-weight="bold" text-anchor="end" textLength="3.2" lengthAdjust="spacingAndGlyphs">CI</text>
<text x="358.8" y="853.1" font-size="16.5" fill="#231f20">L</text>
<rect x="392.3" y="873.48" width="4.8" height="54.82" fill="#000"/>
<line x1="394.7" y1="867.93" x2="394.7" y2="879.02" stroke="#000" stroke-width="0.6"/>
<line x1="393.4" y1="867.93" x2="396" y2="867.93" stroke="#000" stroke-width="0.6"/>
<rect x="399.75" y="894.15" width="4.1" height="34.15" fill="#9a9a9a" stroke="#000" stroke-width="0.7"/>
<line x1="401.8" y1="892.57" x2="401.8" y2="895.04" stroke="#000" stroke-width="0.6"/>
<line x1="400.5" y1="892.57" x2="403.1" y2="892.57" stroke="#000" stroke-width="0.6"/>
<rect x="411.4" y="872.86" width="4.8" height="55.44" fill="#000"/>
<line x1="413.8" y1="869.16" x2="413.8" y2="876.56" stroke="#000" stroke-width="0.6"/>
<line x1="412.5" y1="869.16" x2="415.1" y2="869.16" stroke="#000" stroke-width="0.6"/>
<rect x="418.85" y="894.15" width="4.1" height="34.15" fill="#9a9a9a" stroke="#000" stroke-width="0.7"/>
<line x1="420.9" y1="891.34" x2="420.9" y2="896.27" stroke="#000" stroke-width="0.6"/>
<line x1="419.6" y1="891.34" x2="422.2" y2="891.34" stroke="#000" stroke-width="0.6"/>
<rect x="430.5" y="875.32" width="4.8" height="52.98" fill="#000"/>
<line x1="432.9" y1="872.86" x2="432.9" y2="877.79" stroke="#000" stroke-width="0.6"/>
<line x1="431.6" y1="872.86" x2="434.2" y2="872.86" stroke="#000" stroke-width="0.6"/>
<rect x="437.95" y="898.47" width="4.1" height="29.83" fill="#9a9a9a" stroke="#000" stroke-width="0.7"/>
<line x1="440" y1="893.8" x2="440" y2="902.43" stroke="#000" stroke-width="0.6"/>
<line x1="438.7" y1="893.8" x2="441.3" y2="893.8" stroke="#000" stroke-width="0.6"/>
<rect x="449.6" y="879.02" width="4.8" height="49.28" fill="#000"/>
<line x1="452" y1="872.86" x2="452" y2="885.18" stroke="#000" stroke-width="0.6"/>
<line x1="450.7" y1="872.86" x2="453.3" y2="872.86" stroke="#000" stroke-width="0.6"/>
<rect x="457.05" y="901.55" width="4.1" height="26.75" fill="#9a9a9a" stroke="#000" stroke-width="0.7"/>
<line x1="459.1" y1="899.96" x2="459.1" y2="902.43" stroke="#000" stroke-width="0.6"/>
<line x1="457.8" y1="899.96" x2="460.4" y2="899.96" stroke="#000" stroke-width="0.6"/>
<rect x="468.7" y="899.96" width="4.8" height="28.34" fill="#000"/>
<line x1="471.1" y1="896.27" x2="471.1" y2="903.66" stroke="#000" stroke-width="0.6"/>
<line x1="469.8" y1="896.27" x2="472.4" y2="896.27" stroke="#000" stroke-width="0.6"/>
<rect x="476.15" y="915.71" width="4.1" height="12.59" fill="#9a9a9a" stroke="#000" stroke-width="0.7"/>
<line x1="478.2" y1="912.9" x2="478.2" y2="917.83" stroke="#000" stroke-width="0.6"/>
<line x1="476.9" y1="912.9" x2="479.5" y2="912.9" stroke="#000" stroke-width="0.6"/>
<line x1="388.2" y1="866.2" x2="388.2" y2="929.15" stroke="#000" stroke-width="1.7"/>
<line x1="387.35" y1="928.5" x2="483.7" y2="928.5" stroke="#000" stroke-width="1.7"/>
<line x1="385.8" y1="928.3" x2="388.2" y2="928.3" stroke="#000" stroke-width="1.44"/>
<text x="385.2" y="929.85" font-size="4.3" font-weight="bold" text-anchor="end">0</text>
<line x1="385.8" y1="915.98" x2="388.2" y2="915.98" stroke="#000" stroke-width="1.44"/>
<text x="385.2" y="917.53" font-size="4.3" font-weight="bold" text-anchor="end">20</text>
<line x1="385.8" y1="903.66" x2="388.2" y2="903.66" stroke="#000" stroke-width="1.44"/>
<text x="385.2" y="905.21" font-size="4.3" font-weight="bold" text-anchor="end">40</text>
<line x1="385.8" y1="891.34" x2="388.2" y2="891.34" stroke="#000" stroke-width="1.44"/>
<text x="385.2" y="892.89" font-size="4.3" font-weight="bold" text-anchor="end">60</text>
<line x1="385.8" y1="879.02" x2="388.2" y2="879.02" stroke="#000" stroke-width="1.44"/>
<text x="385.2" y="880.57" font-size="4.3" font-weight="bold" text-anchor="end">80</text>
<line x1="385.8" y1="866.7" x2="388.2" y2="866.7" stroke="#000" stroke-width="1.44"/>
<text x="385.2" y="868.25" font-size="4.3" font-weight="bold" text-anchor="end">100</text>
<line x1="398.25" y1="928.3" x2="398.25" y2="930.7" stroke="#000" stroke-width="1.44"/>
<line x1="417.35" y1="928.3" x2="417.35" y2="930.7" stroke="#000" stroke-width="1.44"/>
<line x1="436.45" y1="928.3" x2="436.45" y2="930.7" stroke="#000" stroke-width="1.44"/>
<line x1="455.55" y1="928.3" x2="455.55" y2="930.7" stroke="#000" stroke-width="1.44"/>
<line x1="474.65" y1="928.3" x2="474.65" y2="930.7" stroke="#000" stroke-width="1.44"/>
<line x1="394.65" y1="860.4" x2="401.85" y2="860.4" stroke="#000" stroke-width="1.7"/>
<text x="398.64" y="860.57" font-size="7.4" font-weight="bold" text-anchor="middle" letter-spacing="0.77">***</text>
<line x1="413.75" y1="860.4" x2="420.95" y2="860.4" stroke="#000" stroke-width="1.7"/>
<text x="417.74" y="860.57" font-size="7.4" font-weight="bold" text-anchor="middle" letter-spacing="0.77">***</text>
<line x1="432.85" y1="860.4" x2="440.05" y2="860.4" stroke="#000" stroke-width="1.7"/>
<text x="436.84" y="860.57" font-size="7.4" font-weight="bold" text-anchor="middle" letter-spacing="0.77">***</text>
<line x1="451.95" y1="860.4" x2="459.15" y2="860.4" stroke="#000" stroke-width="1.7"/>
<text x="455.94" y="860.57" font-size="7.4" font-weight="bold" text-anchor="middle" letter-spacing="0.77">***</text>
<line x1="471.05" y1="860.4" x2="478.25" y2="860.4" stroke="#000" stroke-width="1.7"/>
<text x="475.04" y="860.57" font-size="7.4" font-weight="bold" text-anchor="middle" letter-spacing="0.77">***</text>
<rect x="490.1" y="869.2" width="6.8" height="2.9" fill="#000"/>
<text x="501.2" y="872.1" font-size="4.6" textLength="7.3" lengthAdjust="spacingAndGlyphs">NC</text>
<rect x="490.4" y="877.2" width="6.2" height="2.3" fill="#9a9a9a" stroke="#000" stroke-width="0.6"/>
<text x="501.2" y="879.8" font-size="4.6" textLength="19.3" lengthAdjust="spacingAndGlyphs">shUSP13</text>
<text x="376.3" y="897.7" font-size="5" font-weight="bold" text-anchor="middle" transform="rotate(-90 376.3 897.7)" textLength="38" lengthAdjust="spacingAndGlyphs">Cell viability(%)</text>
<text x="398.25" y="936.2" font-size="4.6" font-weight="bold" text-anchor="middle">5</text>
<text x="417.35" y="936.2" font-size="4.6" font-weight="bold" text-anchor="middle">10</text>
<text x="436.45" y="936.2" font-size="4.6" font-weight="bold" text-anchor="middle">20</text>
<text x="455.55" y="936.2" font-size="4.6" font-weight="bold" text-anchor="middle">40</text>
<text x="474.65" y="936.2" font-size="4.6" font-weight="bold" text-anchor="middle">80</text>
<text x="484" y="936.2" font-size="4.8" font-weight="bold" textLength="19" lengthAdjust="spacingAndGlyphs">CTX(μM)</text>
<rect x="554.5" y="870.18" width="5.4" height="59.62" fill="#2b2b2b"/>
<line x1="557.2" y1="868.94" x2="557.2" y2="871.43" stroke="#000" stroke-width="0.6"/>
<line x1="555.9" y1="868.94" x2="558.5" y2="868.94" stroke="#000" stroke-width="0.6"/>
<rect x="562.45" y="900.96" width="4.7" height="28.84" fill="#8a8a8a" stroke="#000" stroke-width="0.7"/>
<line x1="564.8" y1="899.99" x2="564.8" y2="901.23" stroke="#000" stroke-width="0.6"/>
<line x1="563.5" y1="899.99" x2="566.1" y2="899.99" stroke="#000" stroke-width="0.6"/>
<rect x="574.4" y="877.64" width="5.4" height="52.16" fill="#2b2b2b"/>
<line x1="577.1" y1="871.43" x2="577.1" y2="883.85" stroke="#000" stroke-width="0.6"/>
<line x1="575.8" y1="871.43" x2="578.4" y2="871.43" stroke="#000" stroke-width="0.6"/>
<rect x="582.35" y="903.45" width="4.7" height="26.35" fill="#8a8a8a" stroke="#000" stroke-width="0.7"/>
<line x1="584.7" y1="900.61" x2="584.7" y2="905.58" stroke="#000" stroke-width="0.6"/>
<line x1="583.4" y1="900.61" x2="586" y2="900.61" stroke="#000" stroke-width="0.6"/>
<rect x="594.3" y="878.26" width="5.4" height="51.54" fill="#2b2b2b"/>
<line x1="597" y1="870.81" x2="597" y2="885.71" stroke="#000" stroke-width="0.6"/>
<line x1="595.7" y1="870.81" x2="598.3" y2="870.81" stroke="#000" stroke-width="0.6"/>
<rect x="602.25" y="906.55" width="4.7" height="23.25" fill="#8a8a8a" stroke="#000" stroke-width="0.7"/>
<line x1="604.6" y1="905.58" x2="604.6" y2="906.82" stroke="#000" stroke-width="0.6"/>
<line x1="603.3" y1="905.58" x2="605.9" y2="905.58" stroke="#000" stroke-width="0.6"/>
<rect x="614.2" y="878.88" width="5.4" height="50.92" fill="#2b2b2b"/>
<line x1="616.9" y1="875.77" x2="616.9" y2="881.98" stroke="#000" stroke-width="0.6"/>
<line x1="615.6" y1="875.77" x2="618.2" y2="875.77" stroke="#000" stroke-width="0.6"/>
<rect x="622.15" y="907.79" width="4.7" height="22.01" fill="#8a8a8a" stroke="#000" stroke-width="0.7"/>
<line x1="624.5" y1="906.82" x2="624.5" y2="908.06" stroke="#000" stroke-width="0.6"/>
<line x1="623.2" y1="906.82" x2="625.8" y2="906.82" stroke="#000" stroke-width="0.6"/>
<rect x="634.1" y="898.75" width="5.4" height="31.05" fill="#2b2b2b"/>
<line x1="636.8" y1="897.51" x2="636.8" y2="899.99" stroke="#000" stroke-width="0.6"/>
<line x1="635.5" y1="897.51" x2="638.1" y2="897.51" stroke="#000" stroke-width="0.6"/>
<rect x="642.05" y="917.11" width="4.7" height="12.69" fill="#8a8a8a" stroke="#000" stroke-width="0.7"/>
<line x1="644.4" y1="915.52" x2="644.4" y2="918" stroke="#000" stroke-width="0.6"/>
<line x1="643.1" y1="915.52" x2="645.7" y2="915.52" stroke="#000" stroke-width="0.6"/>
<line x1="552.6" y1="867.2" x2="552.6" y2="930.65" stroke="#000" stroke-width="1.7"/>
<line x1="551.75" y1="930" x2="649.6" y2="930" stroke="#000" stroke-width="1.7"/>
<line x1="550.2" y1="929.8" x2="552.6" y2="929.8" stroke="#000" stroke-width="1.44"/>
<text x="549.6" y="931.35" font-size="4.3" font-weight="bold" text-anchor="end">0</text>
<line x1="550.2" y1="917.38" x2="552.6" y2="917.38" stroke="#000" stroke-width="1.44"/>
<text x="549.6" y="918.93" font-size="4.3" font-weight="bold" text-anchor="end">20</text>
<line x1="550.2" y1="904.96" x2="552.6" y2="904.96" stroke="#000" stroke-width="1.44"/>
<text x="549.6" y="906.51" font-size="4.3" font-weight="bold" text-anchor="end">40</text>
<line x1="550.2" y1="892.54" x2="552.6" y2="892.54" stroke="#000" stroke-width="1.44"/>
<text x="549.6" y="894.09" font-size="4.3" font-weight="bold" text-anchor="end">60</text>
<line x1="550.2" y1="880.12" x2="552.6" y2="880.12" stroke="#000" stroke-width="1.44"/>
<text x="549.6" y="881.67" font-size="4.3" font-weight="bold" text-anchor="end">80</text>
<line x1="550.2" y1="867.7" x2="552.6" y2="867.7" stroke="#000" stroke-width="1.44"/>
<text x="549.6" y="869.25" font-size="4.3" font-weight="bold" text-anchor="end">100</text>
<line x1="561" y1="929.8" x2="561" y2="932.2" stroke="#000" stroke-width="1.44"/>
<line x1="580.9" y1="929.8" x2="580.9" y2="932.2" stroke="#000" stroke-width="1.44"/>
<line x1="600.8" y1="929.8" x2="600.8" y2="932.2" stroke="#000" stroke-width="1.44"/>
<line x1="620.7" y1="929.8" x2="620.7" y2="932.2" stroke="#000" stroke-width="1.44"/>
<line x1="640.6" y1="929.8" x2="640.6" y2="932.2" stroke="#000" stroke-width="1.44"/>
<line x1="557.4" y1="860.4" x2="564.6" y2="860.4" stroke="#000" stroke-width="1.7"/>
<text x="561.39" y="860.57" font-size="7.4" font-weight="bold" text-anchor="middle" letter-spacing="0.77">***</text>
<line x1="577.3" y1="860.4" x2="584.5" y2="860.4" stroke="#000" stroke-width="1.7"/>
<text x="581.29" y="860.57" font-size="7.4" font-weight="bold" text-anchor="middle" letter-spacing="0.77">***</text>
<line x1="597.2" y1="860.4" x2="604.4" y2="860.4" stroke="#000" stroke-width="1.7"/>
<text x="601.19" y="860.57" font-size="7.4" font-weight="bold" text-anchor="middle" letter-spacing="0.77">***</text>
<line x1="617.1" y1="860.4" x2="624.3" y2="860.4" stroke="#000" stroke-width="1.7"/>
<text x="621.09" y="860.57" font-size="7.4" font-weight="bold" text-anchor="middle" letter-spacing="0.77">***</text>
<line x1="637" y1="860.4" x2="644.2" y2="860.4" stroke="#000" stroke-width="1.7"/>
<text x="640.99" y="860.57" font-size="7.4" font-weight="bold" text-anchor="middle" letter-spacing="0.77">***</text>
<rect x="649.4" y="870.8" width="6.8" height="2.9" fill="#2b2b2b"/>
<text x="660.8" y="873.7" font-size="4.6" textLength="7.3" lengthAdjust="spacingAndGlyphs">NC</text>
<rect x="649.7" y="881.2" width="6.2" height="2.3" fill="#8a8a8a" stroke="#000" stroke-width="0.6"/>
<text x="660.8" y="883.8" font-size="4.6" textLength="21" lengthAdjust="spacingAndGlyphs">shUSP13</text>
<text x="538" y="899.5" font-size="5" font-weight="bold" text-anchor="middle" fill="#dadada" transform="rotate(-90 538 899.5)" textLength="37" lengthAdjust="spacingAndGlyphs">Cell viability(%)</text>
<text x="561" y="938" font-size="4.6" font-weight="bold" text-anchor="middle">5</text>
<text x="580.9" y="938" font-size="4.6" font-weight="bold" text-anchor="middle">10</text>
<text x="600.8" y="938" font-size="4.6" font-weight="bold" text-anchor="middle">20</text>
<text x="620.7" y="938" font-size="4.6" font-weight="bold" text-anchor="middle">40</text>
<text x="640.6" y="938" font-size="4.6" font-weight="bold" text-anchor="middle">80</text>
<text x="648.4" y="937.4" font-size="4.8" font-weight="bold" textLength="19" lengthAdjust="spacingAndGlyphs">CTX(μM)</text></svg></body></html>
